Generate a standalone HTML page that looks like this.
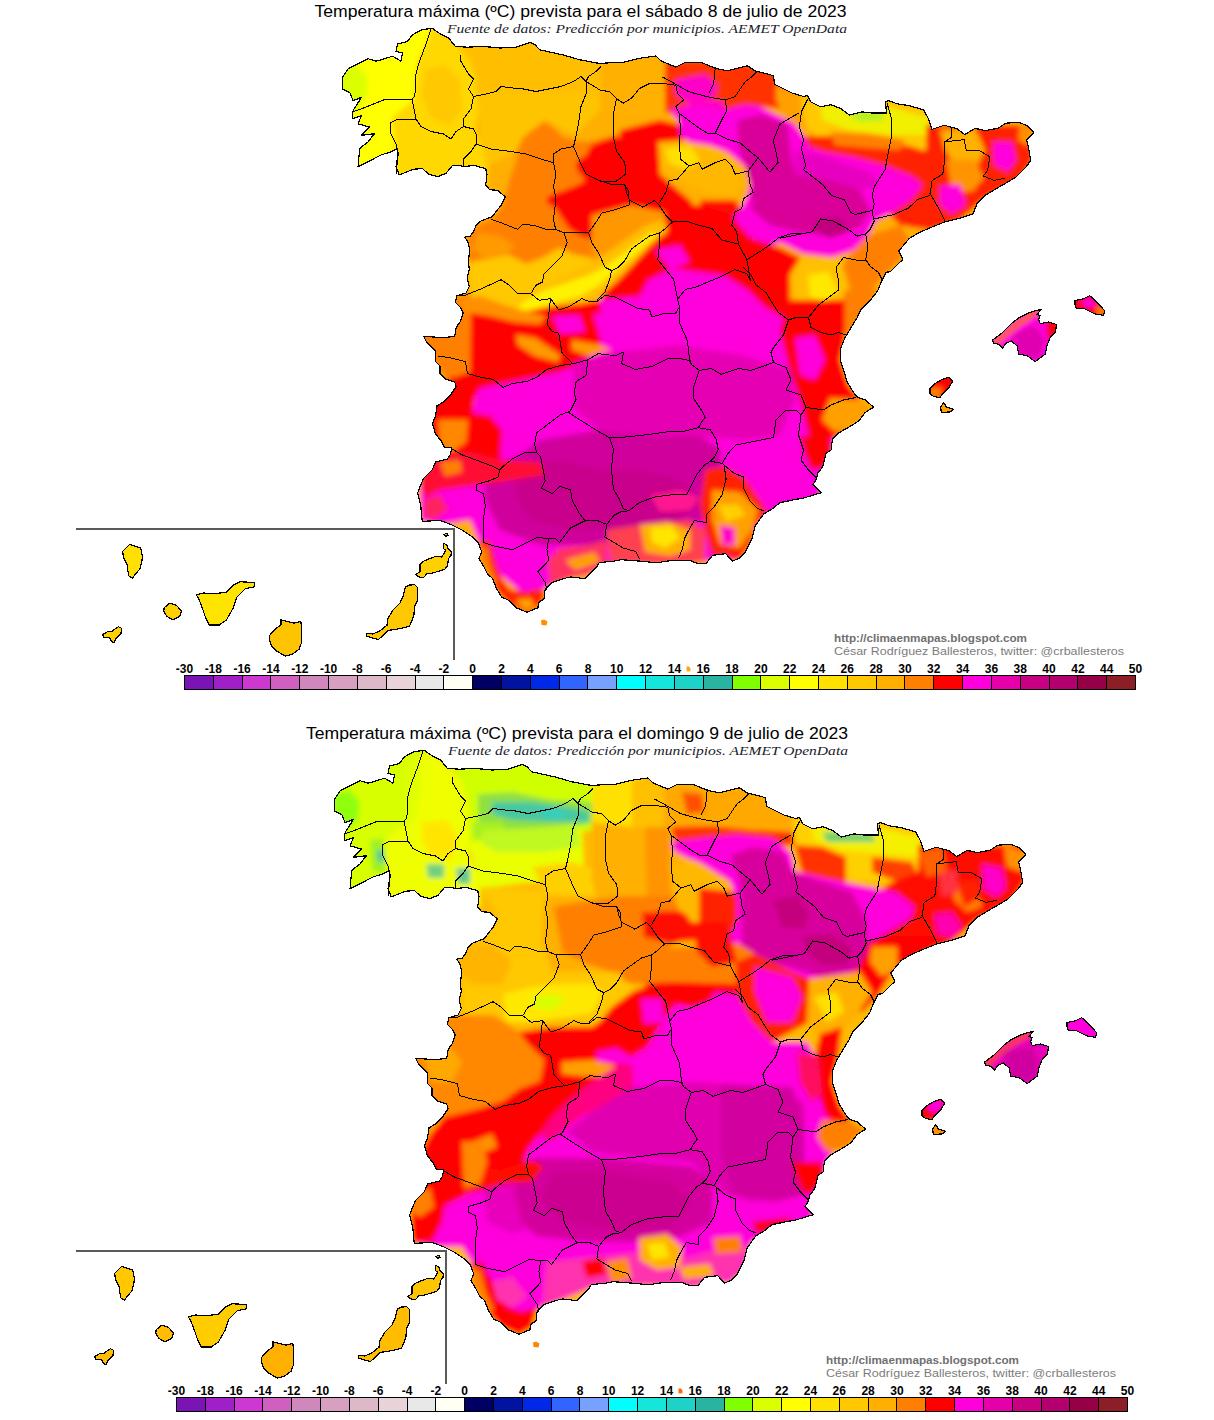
<!DOCTYPE html>
<html><head><meta charset="utf-8"><title>Temperatura máxima prevista</title>
<style>
html,body{margin:0;padding:0;background:#fff;}
body{width:1214px;height:1420px;overflow:hidden;}
svg{display:block;}
.t{font-family:"Liberation Sans",Arial,sans-serif;font-size:16.3px;fill:#000;}
.s{font-family:"Liberation Serif",serif;font-style:italic;font-size:12.5px;fill:#1a1a2a;}
.cb{font-family:"Liberation Sans",Arial,sans-serif;font-size:12px;font-weight:bold;fill:#000;}
.cr{font-family:"Liberation Sans",Arial,sans-serif;font-size:11px;font-weight:bold;fill:#707070;}
.cr2{font-family:"Liberation Sans",Arial,sans-serif;font-size:11.5px;fill:#7c7c7c;}
</style></head>
<body>
<svg width="1214" height="1420" viewBox="0 0 1214 1420">
<defs>
<filter id="bl" x="0" y="0" width="1" height="1" filterUnits="objectBoundingBox"><feGaussianBlur stdDeviation="2.5"/></filter>
<clipPath id="c1"><path d="M432.2,28.2 440.4,34.0 448.7,38.1 455.3,46.4 467.0,47.2 483.3,46.4 499.7,48.0 516.2,47.2 530.0,42.4 535.0,44.8 539.9,49.8 562.1,54.7 579.4,59.7 599.2,63.4 623.9,62.1 638.7,58.4 656.0,55.9 661.0,60.9 675.8,67.1 685.7,62.1 700.5,62.1 715.3,68.3 727.7,70.8 747.4,65.8 754.9,70.8 764.7,73.2 773.4,75.7 774.6,84.4 779.6,86.8 791.9,93.0 804.3,96.7 807.2,95.4 811.0,102.0 820.6,106.8 830.9,104.7 841.2,108.8 849.4,115.0 861.8,111.9 872.1,113.0 886.5,113.0 885.5,101.6 888.5,100.6 896.8,103.7 909.1,105.7 923.6,109.9 928.7,119.1 931.8,129.4 944.2,125.3 956.5,128.4 964.7,134.6 975.0,128.4 985.3,130.5 997.7,128.4 1005.9,123.2 1018.3,122.2 1026.5,125.3 1033.7,132.5 1026.5,139.7 1028.6,148.0 1030.6,160.3 1026.5,166.5 1016.2,176.8 1005.9,183.0 995.6,189.1 985.3,195.3 977.1,203.6 973.0,213.9 960.6,218.0 944.2,222.1 933.9,226.2 919.4,232.4 909.1,238.6 898.8,250.9 903.0,259.2 896.8,265.3 890.6,271.5 885.9,272.4 881.8,280.6 877.7,290.9 869.4,301.2 861.2,309.4 857.1,317.7 850.9,328.0 844.7,338.3 840.6,348.5 840.6,360.9 844.7,373.3 846.8,381.5 853.0,391.8 857.1,397.0 865.3,400.0 873.6,407.2 865.3,412.4 859.1,420.6 853.0,424.7 838.5,433.0 832.4,439.2 831.1,449.9 826.2,453.2 822.9,466.4 817.9,473.0 816.0,480.0 813.0,484.5 821.2,492.7 804.7,497.7 796.5,499.3 780.0,502.6 771.8,509.2 763.6,514.1 755.3,525.7 752.0,538.8 745.4,552.0 738.8,558.6 732.3,561.1 725.7,553.7 712.5,555.3 705.9,563.6 697.7,563.6 689.4,560.3 673.0,560.3 656.5,562.7 640.0,561.1 621.2,559.7 612.2,561.5 599.5,562.4 595.9,567.9 590.4,573.3 585.0,578.7 570.5,576.9 563.2,578.7 552.4,582.4 545.1,589.6 544.2,598.7 538.8,602.3 537.9,607.7 527.0,612.3 516.1,607.7 508.9,600.5 501.6,596.9 496.2,587.8 492.6,578.7 487.1,573.3 483.5,566.0 479.0,558.8 481.7,551.6 478.1,542.5 472.6,537.1 461.7,529.8 450.9,524.4 440.0,520.5 426.6,521.1 422.2,521.1 420.7,504.9 417.7,493.0 419.2,488.6 423.7,478.2 432.5,469.4 435.5,462.0 447.3,459.0 450.3,454.6 451.8,447.2 444.4,447.2 441.4,441.3 435.5,433.9 432.5,423.5 435.5,416.1 437.0,405.8 444.4,401.3 450.3,395.4 456.2,386.5 454.7,382.1 445.8,379.2 439.9,373.2 439.9,365.8 435.5,361.4 435.5,351.1 426.6,342.2 423.7,336.3 442.9,337.7 454.7,336.3 456.2,327.4 460.6,321.0 463.3,312.9 460.6,307.6 455.4,302.3 456.7,295.7 465.9,293.1 469.2,286.5 467.2,278.6 469.2,269.4 468.5,260.2 469.9,249.6 467.9,241.7 464.6,237.1 469.9,236.4 473.8,231.2 476.4,224.6 481.7,220.6 492.3,216.7 496.2,211.4 501.5,204.8 505.4,196.9 497.5,190.3 489.6,189.7 485.7,185.0 487.0,174.5 485.7,168.6 473.8,165.3 464.6,166.6 458.0,165.3 452.7,165.3 446.1,173.2 438.2,176.5 429.0,174.5 422.4,168.6 413.2,169.2 407.5,171.6 399.3,174.9 396.0,166.6 397.6,163.3 397.6,148.5 391.0,151.8 381.0,155.0 368.0,161.7 358.1,166.6 359.7,148.5 368.0,141.9 374.5,133.7 361.4,135.3 369.6,127.1 358.1,123.8 361.4,115.6 352.3,118.8 353.1,110.6 361.4,97.4 353.1,100.7 349.8,92.5 342.4,89.2 342.4,77.7 348.2,68.6 359.7,62.8 368.0,58.7 376.2,61.2 392.7,56.2 400.9,61.2 402.5,53.0 396.0,51.3 397.6,43.9 407.5,41.4 412.4,34.8 421.5,29.9Z M992.5,340.1 1002.4,332.7 1012.3,322.8 1018.8,317.9 1028.7,313.0 1033.7,311.3 1041.1,309.3 1037.0,314.6 1040.3,315.4 1038.6,319.5 1040.3,323.7 1048.5,322.0 1056.7,324.5 1055.1,332.7 1050.1,337.7 1046.9,345.9 1045.2,354.1 1035.3,361.5 1027.1,355.8 1018.8,354.1 1017.2,345.9 1011.4,341.0 1005.7,343.4 1002.4,348.4 999.1,344.3 994.1,343.4Z M1074.9,300.6 1083.1,298.9 1089.7,295.7 1096.3,301.4 1104.5,310.5 1103.7,315.4 1094.6,313.8 1084.7,308.8 1076.5,308.8 1074.9,304.7Z M929.9,388.7 934.8,383.8 941.4,379.7 948.8,377.2 952.9,381.3 948.0,388.7 941.4,395.3 939.8,397.8 933.2,396.1 929.9,393.7Z M940.6,406.9 943.9,402.7 946.4,406.9 953.0,409.3 951.3,411.8 941.4,412.6Z M541.0,620.5 544.0,619.5 547.5,621.5 546.5,625.5 541.5,625.0Z M122.7,551.4 129.6,544.5 140.8,548.0 142.6,557.5 140.0,568.7 132.2,578.2 128.7,575.7 127.0,564.4 123.5,557.5Z M102.8,634.5 107.1,631.9 112.3,631.0 118.4,626.7 121.8,628.4 120.9,633.6 115.8,638.8 114.0,643.1 110.6,640.5 109.7,637.1 103.6,637.1Z M164.2,607.7 169.4,603.3 176.3,605.1 181.5,611.1 179.8,616.3 172.8,619.8 166.8,616.3 163.8,611.1Z M196.2,594.7 204.0,593.0 214.4,593.8 226.5,592.1 233.4,585.2 240.3,581.7 254.1,582.6 254.1,586.9 245.5,588.6 236.8,597.3 233.4,607.7 226.5,619.8 219.5,625.0 209.2,625.0 205.7,618.0 202.2,607.7 198.8,599.0Z M269.7,635.3 274.9,629.3 281.0,624.9 281.0,619.8 287.0,621.5 293.9,623.2 300.8,621.5 301.7,628.4 301.7,642.2 299.1,649.2 292.2,654.4 285.3,656.1 276.6,650.9 271.4,645.7 269.7,640.5Z M366.2,633.1 372.3,634.0 379.2,631.4 387.0,625.3 387.9,618.4 393.1,609.8 400.0,602.9 403.4,595.9 405.2,587.3 409.5,585.1 414.7,584.7 417.3,587.3 417.3,601.1 414.7,606.3 413.8,615.8 412.1,620.2 409.5,626.2 403.4,627.9 396.5,629.2 387.9,630.5 382.7,635.7 378.4,639.6 372.3,637.9 366.2,636.2Z M415.6,574.7 419.9,571.7 419.9,564.8 423.3,561.3 429.4,558.7 436.3,556.1 441.5,557.0 444.1,553.5 445.8,550.1 443.2,548.4 443.2,543.2 446.7,544.9 448.4,549.2 451.5,551.8 451.0,555.3 448.4,558.7 447.6,565.7 445.0,569.1 439.8,570.8 432.9,573.0 426.8,573.9 423.3,577.8 419.0,576.9Z M444.1,534.5 446.7,533.2 448.4,535.4 445.8,536.2Z M686.5,666.5 689.0,666.5 690.5,668.5 690.5,671.5 686.5,671.5Z"/></clipPath>
<clipPath id="c2"><path d="M432.2,28.2 440.4,34.0 448.7,38.1 455.3,46.4 467.0,47.2 483.3,46.4 499.7,48.0 516.2,47.2 530.0,42.4 535.0,44.8 539.9,49.8 562.1,54.7 579.4,59.7 599.2,63.4 623.9,62.1 638.7,58.4 656.0,55.9 661.0,60.9 675.8,67.1 685.7,62.1 700.5,62.1 715.3,68.3 727.7,70.8 747.4,65.8 754.9,70.8 764.7,73.2 773.4,75.7 774.6,84.4 779.6,86.8 791.9,93.0 804.3,96.7 807.2,95.4 811.0,102.0 820.6,106.8 830.9,104.7 841.2,108.8 849.4,115.0 861.8,111.9 872.1,113.0 886.5,113.0 885.5,101.6 888.5,100.6 896.8,103.7 909.1,105.7 923.6,109.9 928.7,119.1 931.8,129.4 944.2,125.3 956.5,128.4 964.7,134.6 975.0,128.4 985.3,130.5 997.7,128.4 1005.9,123.2 1018.3,122.2 1026.5,125.3 1033.7,132.5 1026.5,139.7 1028.6,148.0 1030.6,160.3 1026.5,166.5 1016.2,176.8 1005.9,183.0 995.6,189.1 985.3,195.3 977.1,203.6 973.0,213.9 960.6,218.0 944.2,222.1 933.9,226.2 919.4,232.4 909.1,238.6 898.8,250.9 903.0,259.2 896.8,265.3 890.6,271.5 885.9,272.4 881.8,280.6 877.7,290.9 869.4,301.2 861.2,309.4 857.1,317.7 850.9,328.0 844.7,338.3 840.6,348.5 840.6,360.9 844.7,373.3 846.8,381.5 853.0,391.8 857.1,397.0 865.3,400.0 873.6,407.2 865.3,412.4 859.1,420.6 853.0,424.7 838.5,433.0 832.4,439.2 831.1,449.9 826.2,453.2 822.9,466.4 817.9,473.0 816.0,480.0 813.0,484.5 821.2,492.7 804.7,497.7 796.5,499.3 780.0,502.6 771.8,509.2 763.6,514.1 755.3,525.7 752.0,538.8 745.4,552.0 738.8,558.6 732.3,561.1 725.7,553.7 712.5,555.3 705.9,563.6 697.7,563.6 689.4,560.3 673.0,560.3 656.5,562.7 640.0,561.1 621.2,559.7 612.2,561.5 599.5,562.4 595.9,567.9 590.4,573.3 585.0,578.7 570.5,576.9 563.2,578.7 552.4,582.4 545.1,589.6 544.2,598.7 538.8,602.3 537.9,607.7 527.0,612.3 516.1,607.7 508.9,600.5 501.6,596.9 496.2,587.8 492.6,578.7 487.1,573.3 483.5,566.0 479.0,558.8 481.7,551.6 478.1,542.5 472.6,537.1 461.7,529.8 450.9,524.4 440.0,520.5 426.6,521.1 422.2,521.1 420.7,504.9 417.7,493.0 419.2,488.6 423.7,478.2 432.5,469.4 435.5,462.0 447.3,459.0 450.3,454.6 451.8,447.2 444.4,447.2 441.4,441.3 435.5,433.9 432.5,423.5 435.5,416.1 437.0,405.8 444.4,401.3 450.3,395.4 456.2,386.5 454.7,382.1 445.8,379.2 439.9,373.2 439.9,365.8 435.5,361.4 435.5,351.1 426.6,342.2 423.7,336.3 442.9,337.7 454.7,336.3 456.2,327.4 460.6,321.0 463.3,312.9 460.6,307.6 455.4,302.3 456.7,295.7 465.9,293.1 469.2,286.5 467.2,278.6 469.2,269.4 468.5,260.2 469.9,249.6 467.9,241.7 464.6,237.1 469.9,236.4 473.8,231.2 476.4,224.6 481.7,220.6 492.3,216.7 496.2,211.4 501.5,204.8 505.4,196.9 497.5,190.3 489.6,189.7 485.7,185.0 487.0,174.5 485.7,168.6 473.8,165.3 464.6,166.6 458.0,165.3 452.7,165.3 446.1,173.2 438.2,176.5 429.0,174.5 422.4,168.6 413.2,169.2 407.5,171.6 399.3,174.9 396.0,166.6 397.6,163.3 397.6,148.5 391.0,151.8 381.0,155.0 368.0,161.7 358.1,166.6 359.7,148.5 368.0,141.9 374.5,133.7 361.4,135.3 369.6,127.1 358.1,123.8 361.4,115.6 352.3,118.8 353.1,110.6 361.4,97.4 353.1,100.7 349.8,92.5 342.4,89.2 342.4,77.7 348.2,68.6 359.7,62.8 368.0,58.7 376.2,61.2 392.7,56.2 400.9,61.2 402.5,53.0 396.0,51.3 397.6,43.9 407.5,41.4 412.4,34.8 421.5,29.9Z M992.5,340.1 1002.4,332.7 1012.3,322.8 1018.8,317.9 1028.7,313.0 1033.7,311.3 1041.1,309.3 1037.0,314.6 1040.3,315.4 1038.6,319.5 1040.3,323.7 1048.5,322.0 1056.7,324.5 1055.1,332.7 1050.1,337.7 1046.9,345.9 1045.2,354.1 1035.3,361.5 1027.1,355.8 1018.8,354.1 1017.2,345.9 1011.4,341.0 1005.7,343.4 1002.4,348.4 999.1,344.3 994.1,343.4Z M1074.9,300.6 1083.1,298.9 1089.7,295.7 1096.3,301.4 1104.5,310.5 1103.7,315.4 1094.6,313.8 1084.7,308.8 1076.5,308.8 1074.9,304.7Z M929.9,388.7 934.8,383.8 941.4,379.7 948.8,377.2 952.9,381.3 948.0,388.7 941.4,395.3 939.8,397.8 933.2,396.1 929.9,393.7Z M940.6,406.9 943.9,402.7 946.4,406.9 953.0,409.3 951.3,411.8 941.4,412.6Z M541.0,620.5 544.0,619.5 547.5,621.5 546.5,625.5 541.5,625.0Z M122.7,551.4 129.6,544.5 140.8,548.0 142.6,557.5 140.0,568.7 132.2,578.2 128.7,575.7 127.0,564.4 123.5,557.5Z M102.8,634.5 107.1,631.9 112.3,631.0 118.4,626.7 121.8,628.4 120.9,633.6 115.8,638.8 114.0,643.1 110.6,640.5 109.7,637.1 103.6,637.1Z M164.2,607.7 169.4,603.3 176.3,605.1 181.5,611.1 179.8,616.3 172.8,619.8 166.8,616.3 163.8,611.1Z M196.2,594.7 204.0,593.0 214.4,593.8 226.5,592.1 233.4,585.2 240.3,581.7 254.1,582.6 254.1,586.9 245.5,588.6 236.8,597.3 233.4,607.7 226.5,619.8 219.5,625.0 209.2,625.0 205.7,618.0 202.2,607.7 198.8,599.0Z M269.7,635.3 274.9,629.3 281.0,624.9 281.0,619.8 287.0,621.5 293.9,623.2 300.8,621.5 301.7,628.4 301.7,642.2 299.1,649.2 292.2,654.4 285.3,656.1 276.6,650.9 271.4,645.7 269.7,640.5Z M366.2,633.1 372.3,634.0 379.2,631.4 387.0,625.3 387.9,618.4 393.1,609.8 400.0,602.9 403.4,595.9 405.2,587.3 409.5,585.1 414.7,584.7 417.3,587.3 417.3,601.1 414.7,606.3 413.8,615.8 412.1,620.2 409.5,626.2 403.4,627.9 396.5,629.2 387.9,630.5 382.7,635.7 378.4,639.6 372.3,637.9 366.2,636.2Z M415.6,574.7 419.9,571.7 419.9,564.8 423.3,561.3 429.4,558.7 436.3,556.1 441.5,557.0 444.1,553.5 445.8,550.1 443.2,548.4 443.2,543.2 446.7,544.9 448.4,549.2 451.5,551.8 451.0,555.3 448.4,558.7 447.6,565.7 445.0,569.1 439.8,570.8 432.9,573.0 426.8,573.9 423.3,577.8 419.0,576.9Z M444.1,534.5 446.7,533.2 448.4,535.4 445.8,536.2Z M686.5,666.5 689.0,666.5 690.5,668.5 690.5,671.5 686.5,671.5Z"/></clipPath>
</defs>
<rect width="1214" height="1420" fill="#fff"/>
<text class="t" x="580.5" y="17" text-anchor="middle" textLength="532" lengthAdjust="spacingAndGlyphs">Temperatura máxima (ºC) prevista para el sábado 8 de julio de 2023</text>
<text class="s" x="847" y="32.5" text-anchor="end" textLength="400" lengthAdjust="spacingAndGlyphs">Fuente de datos: Predicción por municipios. AEMET OpenData</text>
<g transform="translate(0,0)">
<g clip-path="url(#c1)"><g filter="url(#bl)">
<rect x="60" y="20" width="1100" height="650" fill="#ffaf00"/>
<path fill="#ffff00" d="M330.0,20.0 433.0,20.0 428.0,40.0 418.0,60.0 414.0,100.0 392.0,118.0 396.0,160.0 398.0,185.0 330.0,185.0Z"/>
<path fill="#dcff00" d="M340.0,70.0 358.0,66.0 368.0,78.0 366.0,96.0 358.0,110.0 348.0,115.0 340.0,100.0Z"/>
<path fill="#e8ff00" d="M352.0,125.0 362.0,128.0 366.0,145.0 358.0,150.0 350.0,140.0Z"/>
<path fill="#ffd800" d="M433.0,20.0 448.0,36.0 458.0,46.0 470.0,60.0 476.0,80.0 478.0,110.0 476.0,130.0 484.0,150.0 488.0,165.0 488.0,185.0 398.0,185.0 396.0,160.0 392.0,118.0 414.0,100.0 418.0,60.0 428.0,40.0Z"/>
<path fill="#ffc800" d="M425.0,70.0 445.0,65.0 460.0,80.0 462.0,110.0 450.0,125.0 430.0,118.0 422.0,95.0Z"/>
<path fill="#ffbf00" d="M455.0,40.0 540.0,40.0 600.0,60.0 625.0,60.0 625.0,100.0 560.0,98.0 520.0,95.0 480.0,95.0 470.0,60.0Z"/>
<path fill="#ffc400" d="M476.0,90.0 560.0,95.0 600.0,95.0 600.0,110.0 575.0,135.0 545.0,120.0 525.0,135.0 515.0,150.0 500.0,160.0 486.0,165.0 480.0,130.0Z"/>
<path fill="#ff8000" d="M522.6,137.9 530.8,131.3 544.0,121.4 552.3,126.4 562.1,136.2 575.3,141.2 591.8,141.2 611.6,136.2 640.0,125.0 660.0,125.0 660.0,265.0 624.7,264.7 608.3,261.4 591.8,258.2 575.3,254.9 558.8,248.3 542.4,258.2 525.9,264.7 509.4,254.9 493.0,258.2 468.2,264.7 468.0,235.0 476.5,225.2 493.0,218.6 501.2,207.1 506.1,192.3 511.0,174.1 516.0,162.6 517.7,149.4Z"/>
<path fill="#ff9a00" d="M478.0,232.0 500.0,236.0 515.0,246.0 505.0,256.0 485.0,258.0 472.0,250.0Z"/>
<path fill="#ffc800" d="M468.0,262.0 493.0,258.0 509.0,255.0 526.0,264.0 542.0,258.0 559.0,248.0 575.0,255.0 592.0,258.0 608.0,261.0 625.0,265.0 650.0,262.0 660.0,265.0 660.0,292.0 640.0,295.0 600.0,300.0 560.0,306.0 530.0,310.0 510.0,318.0 495.0,305.0 470.0,300.0Z"/>
<path fill="#ff0000" d="M578.6,159.3 585.2,156.0 591.8,144.5 605.0,139.5 614.9,136.2 624.7,139.5 641.2,137.9 649.5,144.5 660.0,149.4 660.0,202.1 646.2,205.4 634.6,202.1 624.7,205.4 618.2,218.6 618.2,231.8 613.2,243.3 605.0,245.0 596.7,241.7 588.5,238.4 578.6,235.1 568.7,228.5 562.1,218.6 555.6,208.7 545.7,202.1 549.0,195.6 558.8,192.3 567.1,189.0 575.3,185.7 585.2,180.7 578.6,172.5 575.3,165.9Z"/>
<path fill="#ffb000" d="M600.0,55.0 669.0,55.0 669.0,110.0 640.0,115.0 600.0,110.0Z"/>
<path fill="#ff3000" d="M665.0,60.0 730.0,60.0 776.0,72.0 790.0,90.0 790.0,110.0 760.0,106.0 727.0,110.0 700.0,112.0 680.0,118.0 665.0,112.0Z"/>
<path fill="#ff00c8" d="M675.0,80.0 705.0,74.0 718.0,86.0 712.0,100.0 690.0,104.0 676.0,95.0Z"/>
<path fill="#ff00c8" d="M690.0,104.0 720.0,100.0 728.0,112.0 705.0,118.0Z"/>
<path fill="#ffa000" d="M776.0,85.0 808.0,95.0 812.0,120.0 800.0,128.0 785.0,118.0 776.0,100.0Z"/>
<path fill="#ff0000" d="M620.0,130.0 660.0,120.0 680.0,125.0 686.0,142.0 660.0,145.0 650.0,165.0 672.0,185.0 690.0,200.0 700.0,215.0 690.0,230.0 669.0,225.0 640.0,210.0 620.0,208.0Z"/>
<path fill="#ff1000" d="M700.0,200.0 735.0,200.0 752.0,225.0 752.0,245.0 725.0,240.0 705.0,230.0Z"/>
<path fill="#ffb800" d="M658.0,142.0 689.0,140.0 720.0,146.0 735.0,160.0 745.0,180.0 735.0,195.0 705.0,192.0 680.0,180.0 660.0,170.0Z"/>
<path fill="#ffe000" d="M665.0,148.0 690.0,146.0 700.0,160.0 685.0,170.0 668.0,162.0Z"/>
<path fill="#ffc800" d="M800.0,96.0 886.0,100.0 930.0,110.0 945.0,125.0 950.0,150.0 900.0,150.0 860.0,150.0 820.0,140.0 805.0,125.0Z"/>
<path fill="#f0f000" d="M820.0,105.0 886.0,106.0 928.0,118.0 930.0,135.0 890.0,135.0 850.0,130.0 822.0,120.0Z"/>
<path fill="#b0f020" d="M845.0,112.0 880.0,112.0 886.0,120.0 860.0,122.0Z"/>
<path fill="#ff2800" d="M800.0,136.0 830.0,136.0 870.0,140.0 910.0,146.0 940.0,156.0 945.0,178.0 925.0,182.0 900.0,174.0 870.0,168.0 830.0,160.0 805.0,154.0Z"/>
<path fill="#ff8000" d="M830.0,132.0 870.0,134.0 905.0,140.0 900.0,150.0 870.0,148.0 835.0,145.0Z"/>
<path fill="#ff2000" d="M926.0,125.0 1030.0,125.0 1033.0,160.0 1020.0,180.0 985.0,198.0 960.0,220.0 930.0,230.0 900.0,225.0 880.0,205.0 870.0,180.0 900.0,160.0 926.0,150.0Z"/>
<path fill="#ffb000" d="M940.0,130.0 975.0,128.0 985.0,150.0 975.0,170.0 955.0,165.0 945.0,150.0Z"/>
<path fill="#ff9400" d="M946.0,160.0 975.0,160.0 984.0,178.0 972.0,192.0 952.0,190.0Z"/>
<path fill="#ffb000" d="M950.0,140.0 968.0,140.0 970.0,155.0 952.0,156.0Z"/>
<path fill="#ff00dc" d="M993.0,142.0 1012.0,142.0 1016.0,160.0 1008.0,172.0 994.0,165.0Z"/>
<path fill="#ff00dc" d="M940.0,186.0 960.0,184.0 966.0,205.0 952.0,214.0 940.0,205.0Z"/>
<path fill="#ff9000" d="M1020.0,124.0 1034.0,130.0 1028.0,146.0 1018.0,140.0Z"/>
<path fill="#ff00dc" d="M669.4,109.4 685.9,106.1 702.4,102.8 712.3,107.8 727.1,109.4 743.6,104.5 760.0,106.1 776.5,114.4 793.0,122.6 801.2,132.0 809.5,147.0 824.7,152.0 853.7,157.0 882.7,165.0 911.7,176.0 922.6,185.0 911.7,199.5 890.0,214.0 875.5,221.2 868.2,235.7 853.7,250.2 832.0,257.5 803.0,253.8 781.2,243.0 765.0,246.2 751.8,237.9 735.3,229.7 732.0,218.2 738.6,211.6 745.2,200.0 750.1,185.2 745.2,167.1 735.3,158.8 727.1,152.3 710.6,145.7 689.2,142.4 679.3,134.1 679.3,122.6Z"/>
<path fill="#d80098" d="M738.0,120.0 760.0,115.0 788.0,125.0 790.0,150.0 795.0,175.0 830.0,180.0 860.0,190.0 870.0,210.0 860.0,228.0 830.0,236.0 800.0,232.0 770.0,225.0 752.0,210.0 752.0,185.0 745.0,165.0 738.0,145.0Z"/>
<path fill="#e800c0" d="M795.0,150.0 830.0,158.0 870.0,172.0 880.0,185.0 860.0,190.0 830.0,180.0 795.0,175.0Z"/>
<path fill="#c0007e" d="M815.0,220.0 840.0,218.0 848.0,232.0 830.0,238.0 816.0,232.0Z"/>
<path fill="#ff8000" d="M868.0,236.0 900.0,225.0 910.0,240.0 900.0,260.0 885.0,275.0 870.0,290.0 850.0,290.0 840.0,270.0 850.0,255.0Z"/>
<path fill="#ffc000" d="M800.0,258.0 840.0,258.0 850.0,290.0 840.0,320.0 810.0,322.0 795.0,300.0 790.0,275.0Z"/>
<path fill="#ffe800" d="M808.0,275.0 828.0,272.0 838.0,290.0 825.0,302.0 810.0,296.0Z"/>
<path fill="#ff8000" d="M845.0,290.0 878.0,288.0 870.0,305.0 855.0,330.0 843.0,335.0 838.0,318.0Z"/>
<path fill="#ff0000" d="M620.0,210.0 660.0,205.0 700.0,205.0 730.0,214.0 750.0,238.0 780.0,248.0 800.0,258.0 790.0,275.0 790.0,300.0 780.0,330.0 700.0,320.0 640.0,320.0 620.0,300.0 615.0,270.0Z"/>
<path fill="#ff9800" d="M592.0,215.0 630.0,205.0 664.0,212.0 668.0,232.0 650.0,245.0 635.0,260.0 618.0,275.0 600.0,288.0 592.0,270.0Z"/>
<path fill="#ff0000" d="M612.0,270.0 640.0,255.0 660.0,240.0 680.0,235.0 700.0,240.0 700.0,270.0 673.0,268.0 648.0,280.0 640.0,296.0 620.0,300.0 600.0,300.0Z"/>
<path fill="#ffc000" d="M505.0,318.0 520.0,300.0 540.0,285.0 565.0,275.0 590.0,264.0 605.0,254.0 625.0,240.0 645.0,226.0 662.0,220.0 666.0,230.0 650.0,246.0 635.0,262.0 618.0,280.0 600.0,296.0 575.0,305.0 545.0,310.0 520.0,318.0Z"/>
<path fill="#fff200" d="M511.0,312.0 526.0,300.0 545.0,290.0 570.0,282.0 592.0,274.0 606.0,266.0 620.0,256.0 636.0,244.0 652.0,232.0 656.0,236.0 640.0,250.0 626.0,262.0 612.0,274.0 598.0,286.0 580.0,296.0 555.0,303.0 530.0,310.0Z"/>
<path fill="#ff00dc" d="M597.0,300.0 640.0,296.0 648.0,280.0 673.0,268.0 700.0,272.0 724.0,275.0 747.6,289.7 765.4,307.5 786.0,319.4 786.0,346.0 777.0,373.0 700.0,370.0 640.0,370.0 600.0,365.0 597.0,340.0Z"/>
<path fill="#ff00dc" d="M655.0,250.0 680.0,245.0 690.0,262.0 670.0,270.0Z"/>
<path fill="#ff8000" d="M420.0,330.0 456.0,296.0 471.0,294.0 474.0,309.0 471.0,326.0 474.0,339.0 486.0,355.0 506.0,368.0 509.0,380.0 494.0,382.0 453.0,382.0 445.0,378.0 436.0,365.0 420.0,352.0Z"/>
<path fill="#ff0000" d="M471.0,306.0 490.0,310.0 510.0,318.0 530.0,311.0 555.0,306.0 580.0,304.0 600.0,300.0 602.0,330.0 598.0,360.0 560.0,375.0 510.0,382.0 494.0,385.0 480.0,390.0 474.0,398.0 472.0,420.0 474.0,440.0 478.0,460.0 430.0,470.0 430.0,395.0 445.0,380.0 470.0,372.0Z"/>
<path fill="#ff9a00" d="M516.0,335.0 535.0,338.0 560.0,355.0 558.0,362.0 535.0,356.0 518.0,345.0Z"/>
<path fill="#ff9a00" d="M572.0,340.0 600.0,345.0 620.0,354.0 615.0,360.0 590.0,356.0 572.0,350.0Z"/>
<path fill="#ff9000" d="M458.0,300.0 480.0,296.0 505.0,305.0 530.0,312.0 546.0,316.0 540.0,324.0 515.0,322.0 490.0,316.0 465.0,312.0Z"/>
<path fill="#ff00dc" d="M552.0,316.0 580.0,315.0 585.0,332.0 560.0,334.0Z"/>
<path fill="#ff00dc" d="M593.0,314.0 625.0,312.0 640.0,320.0 630.0,340.0 600.0,338.0Z"/>
<path fill="#ff00dc" d="M474.4,398.2 479.3,388.3 494.1,385.0 510.6,381.7 527.1,378.4 543.6,375.1 560.0,371.8 576.5,365.2 584.7,358.6 601.2,352.0 620.0,348.7 640.0,330.0 680.0,330.0 720.0,320.0 770.0,322.0 790.0,330.0 800.0,345.0 810.0,380.0 830.0,400.0 835.0,440.0 830.0,470.0 818.0,500.0 760.0,520.0 740.0,560.0 600.0,565.0 550.0,585.0 530.0,600.0 500.0,575.0 480.0,545.0 470.0,520.0 440.0,525.0 420.0,520.0 420.0,480.0 440.0,470.0 472.0,460.0 472.7,413.0Z"/>
<path fill="#ff0000" d="M790.0,300.0 845.0,300.0 845.0,340.0 840.0,360.0 848.0,385.0 860.0,400.0 870.0,410.0 830.0,440.0 810.0,440.0 800.0,400.0 790.0,370.0 780.0,330.0Z"/>
<path fill="#ff00dc" d="M795.0,338.0 815.0,335.0 825.0,360.0 815.0,380.0 800.0,375.0Z"/>
<path fill="#ffa000" d="M830.0,398.0 860.0,400.0 872.0,408.0 855.0,425.0 835.0,432.0 822.0,420.0Z"/>
<path fill="#ff0000" d="M800.0,435.0 830.0,440.0 832.0,455.0 822.0,468.0 812.0,470.0 805.0,455.0Z"/>
<path fill="#e600b4" d="M573.0,362.0 620.0,352.0 680.0,345.0 740.0,355.0 791.0,370.0 795.0,400.0 780.0,436.0 740.0,440.0 700.0,436.0 650.0,436.0 600.0,430.0 575.0,410.0Z"/>
<path fill="#d0009c" d="M485.0,470.0 520.0,455.0 540.0,440.0 600.0,430.0 650.0,436.0 700.0,436.0 721.0,450.0 720.0,500.0 700.0,520.0 650.0,540.0 600.0,545.0 540.0,545.0 500.0,530.0 485.0,500.0Z"/>
<path fill="#c8008c" d="M520.0,470.0 560.0,460.0 600.0,470.0 640.0,470.0 680.0,480.0 700.0,505.0 670.0,525.0 620.0,530.0 570.0,530.0 530.0,520.0 515.0,495.0Z"/>
<path fill="#ff0000" d="M465.0,412.0 490.0,416.0 502.0,430.0 500.0,462.0 480.0,466.0 465.0,455.0Z"/>
<path fill="#ff8800" d="M438.0,420.0 468.0,420.0 466.0,442.0 452.0,452.0 440.0,446.0Z"/>
<path fill="#ff1030" d="M430.0,455.0 470.0,452.0 500.0,460.0 540.0,462.0 545.0,475.0 500.0,482.0 470.0,486.0 440.0,490.0 425.0,498.0 420.0,480.0Z"/>
<path fill="#ff8000" d="M440.0,462.0 460.0,460.0 462.0,472.0 445.0,476.0Z"/>
<path fill="#ff2060" d="M424.0,500.0 440.0,495.0 448.0,510.0 432.0,520.0 424.0,515.0Z"/>
<path fill="#ff2000" d="M478.0,542.0 490.0,540.0 495.0,560.0 502.0,580.0 510.0,590.0 525.0,592.0 540.0,588.0 545.0,595.0 540.0,605.0 527.0,613.0 510.0,605.0 498.0,592.0 490.0,578.0 483.0,565.0Z"/>
<path fill="#ff8000" d="M480.0,546.0 487.0,548.0 490.0,565.0 497.0,582.0 492.0,586.0 484.0,570.0 480.0,560.0Z"/>
<path fill="#ffa000" d="M515.0,600.0 530.0,598.0 535.0,606.0 525.0,610.0Z"/>
<path fill="#ff2000" d="M705.0,470.0 724.0,466.0 745.0,478.0 760.0,500.0 768.0,512.0 755.0,526.0 752.0,540.0 745.0,552.0 738.0,560.0 725.0,556.0 712.0,556.0 705.0,530.0 700.0,505.0Z"/>
<path fill="#ffa000" d="M712.0,490.0 740.0,492.0 758.0,510.0 752.0,530.0 740.0,548.0 720.0,545.0 712.0,520.0Z"/>
<path fill="#ffd000" d="M718.0,505.0 738.0,505.0 746.0,515.0 726.0,522.0Z"/>
<path fill="#ff00c8" d="M720.0,525.0 735.0,528.0 735.0,545.0 722.0,545.0Z"/>
<path fill="#ff4050" d="M607.0,530.0 640.0,525.0 690.0,520.0 705.0,530.0 705.0,560.0 690.0,564.0 650.0,564.0 610.0,562.0Z"/>
<path fill="#ffb000" d="M640.0,525.0 668.0,522.0 690.0,530.0 690.0,550.0 670.0,556.0 645.0,552.0Z"/>
<path fill="#ffe600" d="M650.0,528.0 672.0,526.0 680.0,538.0 665.0,548.0 652.0,542.0Z"/>
<path fill="#ff3060" d="M548.0,560.0 560.0,548.0 590.0,545.0 607.0,540.0 607.0,565.0 585.0,575.0 570.0,578.0 550.0,586.0Z"/>
<path fill="#ffa000" d="M565.0,560.0 595.0,552.0 600.0,562.0 575.0,570.0Z"/>
<path fill="#ff1890" d="M650.0,495.0 680.0,490.0 700.0,498.0 690.0,510.0 660.0,512.0Z"/>
<path fill="#ff00dc" d="M985.0,300.0 1060.0,300.0 1060.0,365.0 985.0,365.0Z"/>
<path fill="#e000b0" d="M1012.0,335.0 1035.0,325.0 1045.0,340.0 1040.0,358.0 1020.0,356.0Z"/>
<path fill="#ff6000" d="M990.0,342.0 1005.0,330.0 1020.0,318.0 1035.0,308.0 1040.0,313.0 1020.0,326.0 1005.0,338.0 996.0,346.0Z"/>
<path fill="#ff0000" d="M1045.0,320.0 1060.0,320.0 1060.0,340.0 1048.0,340.0Z"/>
<path fill="#ff0000" d="M1070.0,290.0 1110.0,290.0 1110.0,320.0 1070.0,320.0Z"/>
<path fill="#ff00dc" d="M1080.0,300.0 1092.0,298.0 1096.0,306.0 1086.0,308.0Z"/>
<path fill="#ff8000" d="M1098.0,305.0 1106.0,310.0 1104.0,318.0 1096.0,314.0Z"/>
<path fill="#ff0000" d="M925.0,372.0 958.0,372.0 958.0,400.0 925.0,400.0Z"/>
<path fill="#ff8000" d="M928.0,388.0 942.0,388.0 940.0,398.0 928.0,396.0Z"/>
<path fill="#ffa000" d="M935.0,400.0 958.0,400.0 958.0,415.0 935.0,415.0Z"/>
<path fill="#ff8c00" d="M538.0,618.0 550.0,618.0 550.0,628.0 538.0,628.0Z"/>
<path fill="#ffa000" d="M684.0,664.0 693.0,664.0 693.0,674.0 684.0,674.0Z"/>
<path fill="#ffd000" d="M95.0,535.0 460.0,535.0 460.0,665.0 95.0,665.0Z"/>
<path fill="#ffe000" d="M120.0,542.0 145.0,542.0 145.0,580.0 120.0,580.0Z"/>
<path fill="#ffe400" d="M195.0,580.0 256.0,580.0 256.0,627.0 195.0,627.0Z"/>
<path fill="#ffc800" d="M360.0,580.0 420.0,580.0 420.0,642.0 360.0,642.0Z"/>
<path fill="#ffc400" d="M268.0,618.0 304.0,618.0 304.0,658.0 268.0,658.0Z"/>
</g></g>
<g fill="none" stroke="#000" stroke-width="1" stroke-linejoin="round" shape-rendering="crispEdges"><polyline points="431.0,29.0 426.0,44.0 418.5,64.0 416.0,74.0 414.8,96.5 412.0,99.0 416.0,119.0"/>
<polyline points="412.0,99.0 398.5,99.0 386.0,99.0 373.5,104.0 361.0,109.0 353.5,111.5"/>
<polyline points="416.0,119.0 398.5,119.0 390.0,122.8 391.0,134.0 396.0,144.0 398.5,154.0 396.0,164.0 396.0,174.0"/>
<polyline points="416.0,119.0 421.0,126.5 431.0,131.5 443.5,134.0 451.0,139.0 456.0,131.5 463.5,126.5 473.5,129.0 476.0,134.0"/>
<polyline points="460.0,55.0 461.0,61.5 468.5,74.0 473.5,79.0 468.5,89.0 473.5,96.5 471.0,109.0 463.5,119.0 463.5,126.5"/>
<polyline points="476.0,134.0 476.0,144.0 471.0,151.5 463.5,159.0 463.5,166.5"/>
<polyline points="473.5,96.5 486.0,94.0 496.0,91.5 501.0,86.5 511.0,87.8 523.5,89.0 536.0,91.5 548.5,89.0 561.0,86.5 573.5,81.5 581.0,76.5 586.0,81.5"/>
<polyline points="601.0,66.5 596.0,71.5 588.5,76.5 586.0,81.5"/>
<polyline points="476.0,144.0 491.0,149.0 511.0,151.5 526.0,154.0 541.0,159.0 553.5,162.8"/>
<polyline points="586.0,81.5 586.0,94.0 581.0,106.5 578.5,124.0 576.0,136.5 573.5,146.5"/>
<polyline points="573.5,146.5 561.0,149.0 553.5,154.0 553.5,162.8"/>
<polyline points="553.5,162.8 556.0,174.0 553.5,186.5 556.0,199.0 553.5,219.0 555.6,229.4"/>
<polyline points="491.3,219.5 501.2,222.8 509.4,226.1 517.7,229.4 522.6,224.5 534.1,225.3 545.7,229.4 555.6,229.4 563.8,232.7"/>
<polyline points="586.0,81.5 600.0,90.0 609.9,91.8 616.5,98.4 623.1,103.3 631.3,98.4 639.5,88.5 649.4,83.5 662.6,83.5 675.8,85.2 677.4,93.4 684.0,100.0 677.4,105.0 675.8,106.6 679.1,113.2"/>
<polyline points="616.5,98.4 613.2,114.8 613.2,136.3 616.5,151.1 624.7,162.6 626.0,174.0"/>
<polyline points="573.5,146.5 581.0,164.0 586.0,174.0 601.0,181.5 616.0,181.5 626.0,174.0"/>
<polyline points="600.0,180.7 609.9,184.0 624.7,184.0 626.4,192.3 629.7,200.5 642.8,207.1 654.4,200.5 659.3,205.4"/>
<polyline points="563.8,232.7 575.3,232.7 588.5,232.7"/>
<polyline points="588.5,232.7 596.7,221.2 601.7,213.0 614.9,209.7 629.7,204.7 628.0,189.9 624.7,184.9"/>
<polyline points="563.8,232.7 567.1,242.6 562.1,255.8 552.3,265.7 544.0,273.9 542.4,282.1 535.8,285.4 530.8,293.7"/>
<polyline points="456.0,295.0 465.0,295.3 481.4,288.7 501.2,279.7 509.4,285.4 517.7,293.7 525.9,293.7 530.8,293.7"/>
<polyline points="530.8,293.7 539.1,300.3 550.6,298.6 558.8,310.1 568.7,306.9 581.9,298.6 590.1,301.9 596.7,301.9"/>
<polyline points="550.6,298.6 549.0,311.8 547.3,325.0 552.3,331.6 558.8,333.2 560.5,344.7 562.1,353.0 572.0,362.9"/>
<polyline points="588.5,232.7 591.8,242.6 598.4,252.5 605.0,267.3 611.6,270.6"/>
<polyline points="611.6,270.6 609.9,278.8 605.0,292.0 598.4,298.6 596.7,301.9"/>
<polyline points="611.6,270.6 618.2,267.3 624.7,260.7 631.3,249.2 637.9,244.3 649.5,236.0 660.0,232.7"/>
<polyline points="596.7,301.9 605.0,295.3 614.9,297.0 624.7,301.9 637.9,308.5 649.5,310.1"/>
<polyline points="659.3,205.4 665.9,215.3 672.5,221.9 689.0,221.9"/>
<polyline points="689.0,165.9 677.4,179.1 669.2,180.7 666.0,192.0 659.3,203.0"/>
<polyline points="679.1,113.2 680.7,129.7 679.1,142.8 680.7,159.3 689.0,165.9"/>
<polyline points="679.1,113.2 692.3,123.1 698.8,128.0 707.1,133.0 715.3,133.0 728.5,139.6 740.0,142.8 751.6,152.7 758.2,157.7"/>
<polyline points="689.0,165.9 698.8,162.6 702.1,169.2 715.3,162.6 725.2,159.3 731.8,165.9 735.1,174.1 748.3,170.9 758.2,157.7"/>
<polyline points="662.6,77.0 677.4,85.2 689.0,91.8 707.1,96.7 725.2,100.0"/>
<polyline points="715.3,67.1 713.7,83.5 708.7,93.4"/>
<polyline points="725.2,100.0 735.1,96.7 745.0,81.9 751.6,76.9 756.5,72.0"/>
<polyline points="725.2,100.0 726.9,109.9 721.9,119.8 718.6,126.4 715.3,133.0"/>
<polyline points="758.2,157.7 769.9,172.1 778.1,162.3 776.0,152.0 773.2,140.8 779.8,124.4 790.0,118.0 799.5,112.8"/>
<polyline points="807.8,99.0 801.4,111.8 799.3,126.8 803.6,139.7 801.4,148.3 805.7,165.4"/>
<polyline points="748.3,170.9 749.9,184.0 753.2,192.3 743.3,198.9 741.7,208.7 735.1,212.0 731.8,225.2 736.7,231.8 738.4,244.0"/>
<polyline points="689.0,221.9 698.8,225.2 712.0,228.5 721.9,240.0 738.4,244.0"/>
<polyline points="805.7,165.4 803.6,169.7 822.8,184.7 831.4,195.4 844.3,199.7 850.7,212.5 855.0,214.6 872.1,210.4 872.1,212.5"/>
<polyline points="887.1,103.3 891.4,118.3 891.4,137.5 887.1,159.0 885.0,169.7 874.2,186.8 872.1,195.4 874.2,204.0 872.1,212.5 874.2,221.1 870.0,229.6 865.7,233.9"/>
<polyline points="874.2,219.0 893.5,214.6 908.5,208.2 917.1,199.7 929.9,195.4 932.1,180.4 942.8,174.0 944.9,159.0 944.9,141.8 951.3,137.5 951.3,126.8"/>
<polyline points="929.9,193.2 938.5,208.2 944.9,221.1"/>
<polyline points="944.9,141.8 964.2,139.7 966.3,150.4 979.2,150.4 989.9,156.8 987.8,169.7 983.5,176.1 994.2,180.4 1004.9,178.2"/>
<polyline points="780.0,238.2 801.4,233.9 812.1,231.8 820.7,218.9 833.5,221.1 848.5,229.6 857.1,236.1 865.7,233.9"/>
<polyline points="865.7,233.9 867.8,246.8 865.7,259.6 870.0,266.0 878.5,272.5 882.8,281.0"/>
<polyline points="672.5,221.9 665.0,229.0 660.0,232.7"/>
<polyline points="660.0,232.7 659.8,241.9 657.8,259.7 665.7,269.5 673.6,279.4 677.6,299.2 679.5,307.1"/>
<polyline points="649.5,310.1 651.9,317.0 665.7,313.0 675.6,313.0 679.5,307.1"/>
<polyline points="679.5,307.1 679.5,322.9 687.4,340.7 689.4,358.5 691.4,364.4"/>
<polyline points="623.6,351.7 621.6,363.6 635.5,369.5 651.9,366.4 667.7,358.5 679.5,358.5 689.4,360.5 691.4,364.4"/>
<polyline points="691.4,364.4 699.3,370.4 711.2,368.4 721.1,374.3 727.0,372.3 738.9,368.4 750.7,370.4 762.6,366.4 773.5,362.5"/>
<polyline points="699.3,370.4 693.4,388.2 693.4,398.0 701.3,409.9 705.2,417.8 702.3,421.0 698.4,427.7"/>
<polyline points="677.6,299.2 685.5,289.3 695.4,287.3 709.2,281.4 719.1,277.5 727.0,273.5 734.9,269.5 746.8,273.5 750.7,281.4"/>
<polyline points="743.5,267.5 751.0,275.0 756.0,285.0 766.0,292.5 773.5,305.0 778.5,312.5 788.5,320.0"/>
<polyline points="738.4,244.0 746.8,259.7 750.7,281.4"/>
<polyline points="746.8,259.7 762.6,249.8 768.5,245.8 778.4,237.9 790.3,234.0 801.4,233.9"/>
<polyline points="788.5,320.0 796.0,317.5 808.5,317.5"/>
<polyline points="808.5,317.5 818.5,305.0 828.5,297.5 838.5,290.0 838.5,280.0 836.0,267.5 843.5,257.5 856.0,260.0 866.0,260.0"/>
<polyline points="808.5,317.5 811.0,327.5 821.0,332.5 831.0,335.0 838.5,332.5 846.0,335.0"/>
<polyline points="788.5,320.0 783.5,335.0 773.5,347.5 771.0,352.5 773.5,362.5"/>
<polyline points="773.5,362.5 786.0,367.5 791.0,380.0 786.0,390.0 801.0,395.0 806.0,407.5 801.0,415.0"/>
<polyline points="806.0,407.5 823.5,410.0 831.0,405.0 843.5,400.0 856.0,397.5"/>
<polyline points="698.4,427.7 710.3,429.7 716.2,439.5 718.2,449.4 714.2,457.3 710.3,461.3"/>
<polyline points="710.3,461.3 722.1,463.3 728.0,453.4 736.0,445.0 748.5,442.5 761.0,440.0 773.5,437.5 776.0,420.0 786.0,410.0 796.0,410.0 801.0,415.0"/>
<polyline points="801.0,415.0 798.5,435.0 803.5,450.0 801.0,460.0 808.5,470.0 816.0,477.5"/>
<polyline points="438.0,356.0 449.6,357.7 465.4,361.6 467.4,373.5 481.3,377.4 493.1,379.4 503.0,387.3 512.9,383.4 526.7,381.4 536.6,377.4 546.5,369.5 560.3,365.6 574.2,363.6 588.0,359.7"/>
<polyline points="572.0,362.9 574.2,363.6"/>
<polyline points="588.0,359.7 597.9,353.7 615.7,355.7 623.6,351.7"/>
<polyline points="588.0,359.7 586.0,375.5 576.2,381.4 574.2,393.3 576.2,399.2 570.2,411.1 560.3,415.0 552.4,420.9 544.5,426.9 536.6,432.8"/>
<polyline points="567.9,411.9 579.8,419.8 595.6,429.7 609.4,437.6 619.3,437.6 639.1,435.6 654.9,433.6 668.7,431.6 682.6,431.6 698.4,427.7"/>
<polyline points="536.6,432.8 534.6,444.7 536.6,452.6 540.6,456.5 543.3,470.0 545.1,480.9 541.5,488.1 552.4,493.6 559.6,486.3 570.5,489.9 572.3,500.8 579.5,513.5 585.0,520.7"/>
<polyline points="536.6,452.6 524.8,452.6 512.9,458.5 503.0,466.4 499.8,470.0"/>
<polyline points="451.6,448.6 461.5,454.6 477.3,460.5 493.1,466.4 499.8,470.0"/>
<polyline points="499.8,470.0 498.0,477.2 488.9,480.9 476.2,484.5 476.2,489.9 483.5,493.6 485.3,506.2 483.5,518.9 483.5,531.6 483.5,542.5"/>
<polyline points="483.5,542.5 494.4,546.1 512.5,549.7 527.0,542.5 537.9,537.1 548.7,538.9"/>
<polyline points="548.7,538.9 556.0,538.9 559.6,542.5 570.5,528.0 585.0,520.7 597.7,520.7 606.7,524.4"/>
<polyline points="548.7,538.9 546.9,549.7 548.7,560.6 541.5,567.9 537.9,571.5 545.1,582.4 546.9,589.6"/>
<polyline points="606.7,524.4 604.9,537.1 614.0,542.5 623.0,547.9 635.7,551.6 639.3,558.8"/>
<polyline points="606.7,524.4 614.0,515.3 621.2,511.7 629.2,510.7"/>
<polyline points="609.4,437.6 613.4,449.4 611.4,469.2 613.4,489.0 619.3,498.9 623.3,508.7 629.2,510.7"/>
<polyline points="629.2,510.7 639.1,502.8 654.9,496.9 670.7,494.9 686.5,494.9 690.5,487.0 696.4,475.1 704.3,465.2 710.3,461.3"/>
<polyline points="722.1,463.3 724.1,465.2 726.1,479.1 722.1,494.9 714.2,506.8 706.3,514.7 706.3,522.6 694.4,520.6 688.5,530.5 684.6,538.4 682.6,548.3 678.6,558.2"/>
<polyline points="724.1,465.2 734.0,473.2 743.9,477.1 743.9,489.0 749.8,500.8 757.7,508.7 763.6,510.7"/></g>
<path d="M432.2,28.2 440.4,34.0 448.7,38.1 455.3,46.4 467.0,47.2 483.3,46.4 499.7,48.0 516.2,47.2 530.0,42.4 535.0,44.8 539.9,49.8 562.1,54.7 579.4,59.7 599.2,63.4 623.9,62.1 638.7,58.4 656.0,55.9 661.0,60.9 675.8,67.1 685.7,62.1 700.5,62.1 715.3,68.3 727.7,70.8 747.4,65.8 754.9,70.8 764.7,73.2 773.4,75.7 774.6,84.4 779.6,86.8 791.9,93.0 804.3,96.7 807.2,95.4 811.0,102.0 820.6,106.8 830.9,104.7 841.2,108.8 849.4,115.0 861.8,111.9 872.1,113.0 886.5,113.0 885.5,101.6 888.5,100.6 896.8,103.7 909.1,105.7 923.6,109.9 928.7,119.1 931.8,129.4 944.2,125.3 956.5,128.4 964.7,134.6 975.0,128.4 985.3,130.5 997.7,128.4 1005.9,123.2 1018.3,122.2 1026.5,125.3 1033.7,132.5 1026.5,139.7 1028.6,148.0 1030.6,160.3 1026.5,166.5 1016.2,176.8 1005.9,183.0 995.6,189.1 985.3,195.3 977.1,203.6 973.0,213.9 960.6,218.0 944.2,222.1 933.9,226.2 919.4,232.4 909.1,238.6 898.8,250.9 903.0,259.2 896.8,265.3 890.6,271.5 885.9,272.4 881.8,280.6 877.7,290.9 869.4,301.2 861.2,309.4 857.1,317.7 850.9,328.0 844.7,338.3 840.6,348.5 840.6,360.9 844.7,373.3 846.8,381.5 853.0,391.8 857.1,397.0 865.3,400.0 873.6,407.2 865.3,412.4 859.1,420.6 853.0,424.7 838.5,433.0 832.4,439.2 831.1,449.9 826.2,453.2 822.9,466.4 817.9,473.0 816.0,480.0 813.0,484.5 821.2,492.7 804.7,497.7 796.5,499.3 780.0,502.6 771.8,509.2 763.6,514.1 755.3,525.7 752.0,538.8 745.4,552.0 738.8,558.6 732.3,561.1 725.7,553.7 712.5,555.3 705.9,563.6 697.7,563.6 689.4,560.3 673.0,560.3 656.5,562.7 640.0,561.1 621.2,559.7 612.2,561.5 599.5,562.4 595.9,567.9 590.4,573.3 585.0,578.7 570.5,576.9 563.2,578.7 552.4,582.4 545.1,589.6 544.2,598.7 538.8,602.3 537.9,607.7 527.0,612.3 516.1,607.7 508.9,600.5 501.6,596.9 496.2,587.8 492.6,578.7 487.1,573.3 483.5,566.0 479.0,558.8 481.7,551.6 478.1,542.5 472.6,537.1 461.7,529.8 450.9,524.4 440.0,520.5 426.6,521.1 422.2,521.1 420.7,504.9 417.7,493.0 419.2,488.6 423.7,478.2 432.5,469.4 435.5,462.0 447.3,459.0 450.3,454.6 451.8,447.2 444.4,447.2 441.4,441.3 435.5,433.9 432.5,423.5 435.5,416.1 437.0,405.8 444.4,401.3 450.3,395.4 456.2,386.5 454.7,382.1 445.8,379.2 439.9,373.2 439.9,365.8 435.5,361.4 435.5,351.1 426.6,342.2 423.7,336.3 442.9,337.7 454.7,336.3 456.2,327.4 460.6,321.0 463.3,312.9 460.6,307.6 455.4,302.3 456.7,295.7 465.9,293.1 469.2,286.5 467.2,278.6 469.2,269.4 468.5,260.2 469.9,249.6 467.9,241.7 464.6,237.1 469.9,236.4 473.8,231.2 476.4,224.6 481.7,220.6 492.3,216.7 496.2,211.4 501.5,204.8 505.4,196.9 497.5,190.3 489.6,189.7 485.7,185.0 487.0,174.5 485.7,168.6 473.8,165.3 464.6,166.6 458.0,165.3 452.7,165.3 446.1,173.2 438.2,176.5 429.0,174.5 422.4,168.6 413.2,169.2 407.5,171.6 399.3,174.9 396.0,166.6 397.6,163.3 397.6,148.5 391.0,151.8 381.0,155.0 368.0,161.7 358.1,166.6 359.7,148.5 368.0,141.9 374.5,133.7 361.4,135.3 369.6,127.1 358.1,123.8 361.4,115.6 352.3,118.8 353.1,110.6 361.4,97.4 353.1,100.7 349.8,92.5 342.4,89.2 342.4,77.7 348.2,68.6 359.7,62.8 368.0,58.7 376.2,61.2 392.7,56.2 400.9,61.2 402.5,53.0 396.0,51.3 397.6,43.9 407.5,41.4 412.4,34.8 421.5,29.9Z M992.5,340.1 1002.4,332.7 1012.3,322.8 1018.8,317.9 1028.7,313.0 1033.7,311.3 1041.1,309.3 1037.0,314.6 1040.3,315.4 1038.6,319.5 1040.3,323.7 1048.5,322.0 1056.7,324.5 1055.1,332.7 1050.1,337.7 1046.9,345.9 1045.2,354.1 1035.3,361.5 1027.1,355.8 1018.8,354.1 1017.2,345.9 1011.4,341.0 1005.7,343.4 1002.4,348.4 999.1,344.3 994.1,343.4Z M1074.9,300.6 1083.1,298.9 1089.7,295.7 1096.3,301.4 1104.5,310.5 1103.7,315.4 1094.6,313.8 1084.7,308.8 1076.5,308.8 1074.9,304.7Z M929.9,388.7 934.8,383.8 941.4,379.7 948.8,377.2 952.9,381.3 948.0,388.7 941.4,395.3 939.8,397.8 933.2,396.1 929.9,393.7Z M940.6,406.9 943.9,402.7 946.4,406.9 953.0,409.3 951.3,411.8 941.4,412.6Z M122.7,551.4 129.6,544.5 140.8,548.0 142.6,557.5 140.0,568.7 132.2,578.2 128.7,575.7 127.0,564.4 123.5,557.5Z M102.8,634.5 107.1,631.9 112.3,631.0 118.4,626.7 121.8,628.4 120.9,633.6 115.8,638.8 114.0,643.1 110.6,640.5 109.7,637.1 103.6,637.1Z M164.2,607.7 169.4,603.3 176.3,605.1 181.5,611.1 179.8,616.3 172.8,619.8 166.8,616.3 163.8,611.1Z M196.2,594.7 204.0,593.0 214.4,593.8 226.5,592.1 233.4,585.2 240.3,581.7 254.1,582.6 254.1,586.9 245.5,588.6 236.8,597.3 233.4,607.7 226.5,619.8 219.5,625.0 209.2,625.0 205.7,618.0 202.2,607.7 198.8,599.0Z M269.7,635.3 274.9,629.3 281.0,624.9 281.0,619.8 287.0,621.5 293.9,623.2 300.8,621.5 301.7,628.4 301.7,642.2 299.1,649.2 292.2,654.4 285.3,656.1 276.6,650.9 271.4,645.7 269.7,640.5Z M366.2,633.1 372.3,634.0 379.2,631.4 387.0,625.3 387.9,618.4 393.1,609.8 400.0,602.9 403.4,595.9 405.2,587.3 409.5,585.1 414.7,584.7 417.3,587.3 417.3,601.1 414.7,606.3 413.8,615.8 412.1,620.2 409.5,626.2 403.4,627.9 396.5,629.2 387.9,630.5 382.7,635.7 378.4,639.6 372.3,637.9 366.2,636.2Z M415.6,574.7 419.9,571.7 419.9,564.8 423.3,561.3 429.4,558.7 436.3,556.1 441.5,557.0 444.1,553.5 445.8,550.1 443.2,548.4 443.2,543.2 446.7,544.9 448.4,549.2 451.5,551.8 451.0,555.3 448.4,558.7 447.6,565.7 445.0,569.1 439.8,570.8 432.9,573.0 426.8,573.9 423.3,577.8 419.0,576.9Z M444.1,534.5 446.7,533.2 448.4,535.4 445.8,536.2Z" fill="none" stroke="#000" stroke-width="1.2" stroke-linejoin="round" shape-rendering="crispEdges"/>
<path d="M76,529H454V660" fill="none" stroke="#5a5a5a" stroke-width="2"/>
</g>
<text class="cr" x="834" y="642" textLength="193" lengthAdjust="spacingAndGlyphs">http://climaenmapas.blogspot.com</text>
<text class="cr2" x="834" y="655" textLength="290" lengthAdjust="spacingAndGlyphs">César Rodríguez Ballesteros, twitter: @crballesteros</text>
<g class="cb"><rect x="184.5" y="675.5" width="29" height="14" fill="#7a14b4" stroke="#000" stroke-width="1"/>
<rect x="213.5" y="675.5" width="29" height="14" fill="#a020c8" stroke="#000" stroke-width="1"/>
<rect x="242.5" y="675.5" width="28" height="14" fill="#cc38d0" stroke="#000" stroke-width="1"/>
<rect x="270.5" y="675.5" width="29" height="14" fill="#d060c0" stroke="#000" stroke-width="1"/>
<rect x="299.5" y="675.5" width="29" height="14" fill="#d088bc" stroke="#000" stroke-width="1"/>
<rect x="328.5" y="675.5" width="29" height="14" fill="#d8a0c0" stroke="#000" stroke-width="1"/>
<rect x="357.5" y="675.5" width="29" height="14" fill="#dcb8c8" stroke="#000" stroke-width="1"/>
<rect x="386.5" y="675.5" width="29" height="14" fill="#e8d4d8" stroke="#000" stroke-width="1"/>
<rect x="415.5" y="675.5" width="28" height="14" fill="#e8e8e8" stroke="#000" stroke-width="1"/>
<rect x="443.5" y="675.5" width="29" height="14" fill="#fffff4" stroke="#000" stroke-width="1"/>
<rect x="472.5" y="675.5" width="29" height="14" fill="#000064" stroke="#000" stroke-width="1"/>
<rect x="501.5" y="675.5" width="29" height="14" fill="#0014a0" stroke="#000" stroke-width="1"/>
<rect x="530.5" y="675.5" width="29" height="14" fill="#0028e6" stroke="#000" stroke-width="1"/>
<rect x="559.5" y="675.5" width="28" height="14" fill="#3264ff" stroke="#000" stroke-width="1"/>
<rect x="587.5" y="675.5" width="29" height="14" fill="#78a0ff" stroke="#000" stroke-width="1"/>
<rect x="616.5" y="675.5" width="29" height="14" fill="#00ffff" stroke="#000" stroke-width="1"/>
<rect x="645.5" y="675.5" width="29" height="14" fill="#14e6dc" stroke="#000" stroke-width="1"/>
<rect x="674.5" y="675.5" width="29" height="14" fill="#1ed2c8" stroke="#000" stroke-width="1"/>
<rect x="703.5" y="675.5" width="29" height="14" fill="#28b4a0" stroke="#000" stroke-width="1"/>
<rect x="732.5" y="675.5" width="28" height="14" fill="#80ff00" stroke="#000" stroke-width="1"/>
<rect x="760.5" y="675.5" width="29" height="14" fill="#dcff00" stroke="#000" stroke-width="1"/>
<rect x="789.5" y="675.5" width="29" height="14" fill="#ffff00" stroke="#000" stroke-width="1"/>
<rect x="818.5" y="675.5" width="29" height="14" fill="#ffe100" stroke="#000" stroke-width="1"/>
<rect x="847.5" y="675.5" width="29" height="14" fill="#ffc800" stroke="#000" stroke-width="1"/>
<rect x="876.5" y="675.5" width="28" height="14" fill="#ffaf00" stroke="#000" stroke-width="1"/>
<rect x="904.5" y="675.5" width="29" height="14" fill="#ff8000" stroke="#000" stroke-width="1"/>
<rect x="933.5" y="675.5" width="29" height="14" fill="#ff0000" stroke="#000" stroke-width="1"/>
<rect x="962.5" y="675.5" width="29" height="14" fill="#ff00dc" stroke="#000" stroke-width="1"/>
<rect x="991.5" y="675.5" width="29" height="14" fill="#e600aa" stroke="#000" stroke-width="1"/>
<rect x="1020.5" y="675.5" width="29" height="14" fill="#c80082" stroke="#000" stroke-width="1"/>
<rect x="1049.5" y="675.5" width="28" height="14" fill="#b4006e" stroke="#000" stroke-width="1"/>
<rect x="1077.5" y="675.5" width="29" height="14" fill="#960046" stroke="#000" stroke-width="1"/>
<rect x="1106.5" y="675.5" width="29" height="14" fill="#8c1e28" stroke="#000" stroke-width="1"/>
<text x="184.5" y="673" text-anchor="middle">-30</text>
<text x="213.3" y="673" text-anchor="middle">-18</text>
<text x="242.1" y="673" text-anchor="middle">-16</text>
<text x="271.0" y="673" text-anchor="middle">-14</text>
<text x="299.8" y="673" text-anchor="middle">-12</text>
<text x="328.6" y="673" text-anchor="middle">-10</text>
<text x="357.4" y="673" text-anchor="middle">-8</text>
<text x="386.2" y="673" text-anchor="middle">-6</text>
<text x="415.0" y="673" text-anchor="middle">-4</text>
<text x="443.9" y="673" text-anchor="middle">-2</text>
<text x="472.7" y="673" text-anchor="middle">0</text>
<text x="501.5" y="673" text-anchor="middle">2</text>
<text x="530.3" y="673" text-anchor="middle">4</text>
<text x="559.1" y="673" text-anchor="middle">6</text>
<text x="588.0" y="673" text-anchor="middle">8</text>
<text x="616.8" y="673" text-anchor="middle">10</text>
<text x="645.6" y="673" text-anchor="middle">12</text>
<text x="674.4" y="673" text-anchor="middle">14</text>
<text x="703.2" y="673" text-anchor="middle">16</text>
<text x="732.0" y="673" text-anchor="middle">18</text>
<text x="760.9" y="673" text-anchor="middle">20</text>
<text x="789.7" y="673" text-anchor="middle">22</text>
<text x="818.5" y="673" text-anchor="middle">24</text>
<text x="847.3" y="673" text-anchor="middle">26</text>
<text x="876.1" y="673" text-anchor="middle">28</text>
<text x="905.0" y="673" text-anchor="middle">30</text>
<text x="933.8" y="673" text-anchor="middle">32</text>
<text x="962.6" y="673" text-anchor="middle">34</text>
<text x="991.4" y="673" text-anchor="middle">36</text>
<text x="1020.2" y="673" text-anchor="middle">38</text>
<text x="1049.0" y="673" text-anchor="middle">40</text>
<text x="1077.9" y="673" text-anchor="middle">42</text>
<text x="1106.7" y="673" text-anchor="middle">44</text>
<text x="1135.5" y="673" text-anchor="middle">50</text></g>

<text class="t" x="577" y="739" text-anchor="middle" textLength="542" lengthAdjust="spacingAndGlyphs">Temperatura máxima (ºC) prevista para el domingo 9 de julio de 2023</text>
<text class="s" x="848" y="754.5" text-anchor="end" textLength="400" lengthAdjust="spacingAndGlyphs">Fuente de datos: Predicción por municipios. AEMET OpenData</text>
<g transform="translate(-8,722)">
<g clip-path="url(#c2)"><g filter="url(#bl)">
<rect x="60" y="20" width="1100" height="650" fill="#ffba00"/>
<path fill="#d8ff00" d="M330.0,20.0 433.0,20.0 428.0,40.0 418.0,60.0 416.0,100.0 392.0,118.0 396.0,160.0 398.0,185.0 330.0,185.0Z"/>
<path fill="#90ff10" d="M340.0,72.0 358.0,68.0 368.0,80.0 366.0,98.0 356.0,108.0 343.0,100.0Z"/>
<path fill="#a0f020" d="M378.0,118.0 392.0,116.0 396.0,140.0 392.0,152.0 380.0,148.0Z"/>
<path fill="#40c0a0" d="M385.0,128.0 391.0,128.0 392.0,140.0 386.0,140.0Z"/>
<path fill="#f0ff00" d="M433.0,20.0 448.0,36.0 458.0,46.0 470.0,60.0 476.0,80.0 478.0,110.0 476.0,130.0 484.0,150.0 488.0,165.0 488.0,185.0 398.0,185.0 396.0,160.0 392.0,118.0 416.0,100.0 418.0,60.0 428.0,40.0Z"/>
<path fill="#e0ff00" d="M416.0,40.0 428.0,36.0 430.0,70.0 422.0,100.0 416.0,100.0Z"/>
<path fill="#ffe600" d="M430.0,100.0 455.0,98.0 466.0,115.0 460.0,138.0 440.0,135.0 430.0,120.0Z"/>
<path fill="#70d080" d="M434.0,142.0 452.0,142.0 452.0,156.0 436.0,156.0Z"/>
<path fill="#60c890" d="M464.0,146.0 478.0,146.0 478.0,162.0 466.0,162.0Z"/>
<path fill="#d0ff00" d="M455.0,40.0 540.0,40.0 600.0,60.0 615.0,62.0 615.0,104.0 590.0,110.0 560.0,112.0 520.0,115.0 490.0,125.0 476.0,130.0 478.0,110.0 476.0,80.0 470.0,60.0Z"/>
<path fill="#90e040" d="M486.0,72.0 520.0,70.0 560.0,78.0 600.0,80.0 604.0,100.0 580.0,106.0 540.0,108.0 505.0,110.0 486.0,100.0Z"/>
<path fill="#48c8a0" d="M500.0,80.0 540.0,80.0 580.0,86.0 598.0,90.0 596.0,100.0 560.0,100.0 520.0,98.0 500.0,92.0Z"/>
<path fill="#30d0c0" d="M545.0,87.0 570.0,89.0 578.0,95.0 556.0,96.0Z"/>
<path fill="#a8f020" d="M480.0,100.0 510.0,100.0 515.0,115.0 498.0,125.0 482.0,120.0Z"/>
<path fill="#50c8a0" d="M484.0,128.0 496.0,128.0 498.0,140.0 486.0,140.0Z"/>
<path fill="#eaff00" d="M476.0,120.0 520.0,112.0 560.0,108.0 590.0,104.0 592.0,150.0 580.0,160.0 540.0,160.0 500.0,165.0 486.0,165.0 484.0,150.0Z"/>
<path fill="#c0f820" d="M490.0,108.0 540.0,106.0 585.0,102.0 588.0,125.0 550.0,130.0 505.0,130.0 490.0,122.0Z"/>
<path fill="#ffd000" d="M540.0,145.0 580.0,140.0 610.0,150.0 620.0,170.0 590.0,175.0 555.0,172.0Z"/>
<path fill="#ffe000" d="M600.0,55.0 640.0,55.0 660.0,60.0 660.0,100.0 640.0,110.0 600.0,105.0Z"/>
<path fill="#ffc000" d="M640.0,58.0 680.0,60.0 680.0,110.0 660.0,112.0 640.0,110.0Z"/>
<path fill="#ffc800" d="M486.0,165.0 540.0,168.0 580.0,172.0 620.0,172.0 640.0,165.0 640.0,300.0 600.0,300.0 560.0,296.0 520.0,300.0 470.0,300.0 470.0,240.0 476.0,225.0 493.0,218.0 501.0,207.0 506.0,192.0Z"/>
<path fill="#ffb000" d="M553.0,174.0 600.0,175.0 640.0,180.0 650.0,250.0 600.0,250.0 560.0,250.0 550.0,220.0Z"/>
<path fill="#ff8c00" d="M561.0,186.0 600.0,185.0 640.0,190.0 660.0,200.0 660.0,236.0 640.0,236.0 600.0,230.0 570.0,225.0Z"/>
<path fill="#ffb400" d="M470.0,225.0 500.0,222.0 520.0,240.0 510.0,262.0 480.0,262.0 468.0,250.0Z"/>
<path fill="#ffe800" d="M511.0,272.0 540.0,265.0 570.0,262.0 600.0,262.0 611.0,270.0 600.0,290.0 570.0,296.0 540.0,300.0 515.0,300.0Z"/>
<path fill="#d8ff00" d="M540.0,276.0 560.0,272.0 575.0,278.0 560.0,288.0 543.0,286.0Z"/>
<path fill="#ffa800" d="M672.0,62.0 730.0,60.0 776.0,72.0 800.0,90.0 803.0,120.0 770.0,118.0 730.0,118.0 690.0,120.0 672.0,112.0Z"/>
<path fill="#ff3000" d="M680.0,105.0 720.0,104.0 760.0,108.0 800.0,110.0 803.0,123.0 760.0,124.0 720.0,124.0 680.0,124.0Z"/>
<path fill="#ff5000" d="M690.0,70.0 710.0,72.0 712.0,90.0 695.0,92.0Z"/>
<path fill="#ffd000" d="M800.0,96.0 886.0,100.0 930.0,110.0 948.0,125.0 950.0,160.0 900.0,160.0 860.0,158.0 820.0,150.0 805.0,130.0Z"/>
<path fill="#f4f000" d="M820.0,104.0 886.0,106.0 928.0,116.0 930.0,135.0 890.0,132.0 850.0,128.0 822.0,118.0Z"/>
<path fill="#70d070" d="M830.0,110.0 880.0,112.0 884.0,120.0 835.0,120.0Z"/>
<path fill="#ff3000" d="M803.0,123.0 830.0,125.0 854.0,135.0 854.0,160.0 830.0,158.0 810.0,150.0Z"/>
<path fill="#ff4000" d="M880.0,135.0 920.0,140.0 930.0,160.0 900.0,158.0 880.0,150.0Z"/>
<path fill="#ffb000" d="M600.0,100.0 680.0,110.0 690.0,140.0 700.0,150.0 700.0,200.0 680.0,210.0 640.0,200.0 610.0,190.0 600.0,160.0Z"/>
<path fill="#ff9400" d="M653.0,105.0 677.0,105.0 680.0,180.0 655.0,180.0Z"/>
<path fill="#ff8000" d="M564.0,184.0 628.0,174.0 682.0,174.0 690.0,200.0 665.0,253.0 620.0,250.0 591.0,240.0 570.0,230.0Z"/>
<path fill="#ff1000" d="M663.0,189.0 707.0,189.0 707.0,218.0 680.0,220.0Z"/>
<path fill="#ffb800" d="M677.0,142.0 732.0,150.0 740.0,175.0 732.0,208.0 707.0,208.0 690.0,190.0 680.0,170.0Z"/>
<path fill="#ff2000" d="M707.0,166.0 745.0,170.0 760.0,200.0 760.0,241.0 720.0,241.0 707.0,220.0Z"/>
<path fill="#ff0000" d="M653.0,238.0 700.0,232.0 760.0,241.0 760.0,280.0 700.0,275.0 653.0,280.0Z"/>
<path fill="#ff1000" d="M926.0,123.0 1031.0,123.0 1033.0,160.0 1020.0,180.0 985.0,198.0 960.0,220.0 930.0,232.0 900.0,225.0 880.0,205.0 870.0,180.0 900.0,160.0 926.0,150.0Z"/>
<path fill="#ff00c8" d="M990.0,142.0 1010.0,146.0 1014.0,165.0 1005.0,175.0 992.0,168.0Z"/>
<path fill="#ff00b0" d="M942.0,192.0 960.0,190.0 970.0,205.0 960.0,216.0 945.0,212.0Z"/>
<path fill="#ff8000" d="M960.0,160.0 985.0,165.0 990.0,185.0 975.0,190.0 962.0,178.0Z"/>
<path fill="#ff3040" d="M946.0,150.0 965.0,148.0 966.0,170.0 950.0,175.0Z"/>
<path fill="#ff2000" d="M965.0,160.0 985.0,158.0 990.0,175.0 972.0,185.0Z"/>
<path fill="#ff9000" d="M1012.0,124.0 1034.0,130.0 1030.0,150.0 1015.0,145.0Z"/>
<path fill="#ff6000" d="M925.0,130.0 950.0,125.0 955.0,150.0 935.0,155.0Z"/>
<path fill="#ff0000" d="M868.0,214.0 948.0,214.0 930.0,232.0 900.0,250.0 885.0,275.0 870.0,290.0 850.0,290.0 840.0,270.0 850.0,255.0Z"/>
<path fill="#ffa000" d="M880.0,225.0 905.0,225.0 905.0,245.0 890.0,255.0 878.0,240.0Z"/>
<path fill="#ff00dc" d="M679.7,119.7 708.7,116.1 745.0,112.5 781.2,116.1 799.3,130.6 803.0,148.7 832.0,156.0 868.2,163.2 904.5,170.5 922.6,185.0 919.0,195.9 890.0,214.0 875.5,221.2 868.2,243.0 853.7,257.5 832.0,264.7 810.2,257.5 781.2,257.5 759.5,243.0 745.0,235.7 734.1,221.2 745.0,199.5 745.0,177.7 737.7,159.6 708.7,141.5 690.6,134.2 679.7,127.0Z"/>
<path fill="#d8009c" d="M738.0,134.0 760.0,125.0 790.0,130.0 800.0,150.0 830.0,160.0 860.0,170.0 875.0,200.0 875.0,230.0 862.0,250.0 830.0,255.0 800.0,245.0 770.0,240.0 750.0,225.0 750.0,195.0 750.0,170.0 745.0,150.0Z"/>
<path fill="#c4007e" d="M781.0,178.0 805.0,174.0 817.0,190.0 812.0,207.0 790.0,205.0Z"/>
<path fill="#c4007e" d="M810.0,214.0 840.0,212.0 861.0,225.0 855.0,243.0 830.0,243.0 815.0,232.0Z"/>
<path fill="#ff8000" d="M629.0,230.0 745.0,221.0 763.0,232.0 800.0,250.0 817.0,257.0 817.0,262.0 744.0,262.0 683.0,260.0 640.0,262.0 629.0,257.0Z"/>
<path fill="#ff1000" d="M650.0,190.0 695.0,192.0 700.0,215.0 680.0,222.0 652.0,215.0Z"/>
<path fill="#ff1000" d="M700.0,200.0 735.0,200.0 745.0,240.0 720.0,245.0 705.0,230.0Z"/>
<path fill="#ff2000" d="M744.0,240.0 763.0,232.0 800.0,250.0 817.0,257.0 817.0,300.0 780.0,320.0 760.0,300.0 744.0,272.0Z"/>
<path fill="#ff00dc" d="M763.0,245.0 800.0,255.0 810.0,275.0 800.0,300.0 775.0,300.0 763.0,270.0Z"/>
<path fill="#ffb000" d="M817.0,257.0 868.0,250.0 880.0,270.0 860.0,300.0 830.0,320.0 815.0,300.0Z"/>
<path fill="#ffe000" d="M822.0,275.0 845.0,270.0 852.0,290.0 835.0,300.0Z"/>
<path fill="#ff8800" d="M420.0,300.0 470.0,293.0 502.0,293.0 527.0,310.0 535.0,321.0 552.0,338.0 548.0,359.0 527.0,367.0 511.0,379.0 486.0,387.0 453.0,395.0 440.0,420.0 425.0,460.0 420.0,400.0Z"/>
<path fill="#ffa800" d="M430.0,330.0 455.0,320.0 470.0,340.0 460.0,360.0 440.0,360.0Z"/>
<path fill="#ffa800" d="M436.0,405.0 448.0,398.0 452.0,420.0 440.0,430.0Z"/>
<path fill="#ff0000" d="M440.0,410.0 453.0,395.0 486.0,387.0 511.0,379.0 527.0,367.0 548.0,359.0 552.0,338.0 535.0,321.0 527.0,310.0 560.0,305.0 600.0,305.0 607.0,300.0 620.0,285.0 640.0,270.0 660.0,262.0 683.0,260.0 700.0,262.0 744.0,262.0 744.0,272.0 724.0,270.0 716.0,280.0 700.0,285.0 683.0,282.0 670.0,300.0 655.0,325.0 630.0,340.0 600.0,360.0 575.0,380.0 560.0,395.0 548.0,412.0 535.0,428.0 528.7,448.6 512.9,448.6 497.1,458.5 480.0,470.0 460.0,480.0 440.0,490.0 425.0,495.0 420.0,470.0 430.0,430.0Z"/>
<path fill="#ffa000" d="M570.0,340.0 600.0,338.0 624.0,344.0 620.0,354.0 590.0,354.0 570.0,352.0Z"/>
<path fill="#ff9000" d="M480.0,420.0 500.0,412.0 505.0,425.0 488.0,432.0Z"/>
<path fill="#ff00dc" d="M649.0,277.0 670.0,277.0 672.0,300.0 652.0,302.0Z"/>
<path fill="#ff00dc" d="M604.0,330.0 625.0,326.0 640.0,336.0 630.0,342.0 606.0,340.0Z"/>
<path fill="#ff00dc" d="M630.0,340.0 655.0,325.0 670.0,300.0 683.0,282.0 700.0,285.0 716.0,280.0 724.0,270.0 744.0,272.0 760.0,300.0 780.0,320.0 815.0,320.0 824.0,335.0 827.0,368.0 834.0,392.0 846.0,404.0 852.0,410.0 835.0,440.0 830.0,470.0 818.0,500.0 760.0,520.0 740.0,560.0 600.0,565.0 550.0,585.0 530.0,600.0 500.0,575.0 482.0,545.0 470.0,525.0 440.0,525.0 420.0,520.0 425.0,495.0 440.0,490.0 460.0,480.0 480.0,470.0 497.1,458.5 512.9,448.6 528.7,448.6 535.0,428.0 548.0,412.0 560.0,395.0 575.0,380.0 600.0,360.0Z"/>
<path fill="#ff0080" d="M600.0,360.0 630.0,340.0 641.0,344.0 641.0,367.0 624.0,378.0 590.0,394.0 574.0,406.0 557.0,420.0 548.0,412.0 560.0,395.0 575.0,380.0Z"/>
<path fill="#e000b0" d="M640.0,365.0 700.0,360.0 729.0,362.0 770.0,365.0 812.0,380.0 812.0,430.0 800.0,473.0 760.0,480.0 729.0,470.0 700.0,440.0 650.0,436.0 600.0,430.0 575.0,410.0 600.0,390.0Z"/>
<path fill="#d2009e" d="M729.0,362.0 800.0,365.0 812.0,400.0 812.0,473.0 780.0,480.0 740.0,470.0 729.0,430.0Z"/>
<path fill="#e800bc" d="M490.0,460.0 530.0,450.0 545.0,480.0 540.0,505.0 520.0,512.0 495.0,500.0Z"/>
<path fill="#d4009e" d="M530.0,440.0 544.0,436.0 600.0,436.0 650.0,440.0 700.0,445.0 721.0,460.0 720.0,500.0 690.0,514.0 640.0,520.0 600.0,520.0 544.0,514.0 530.0,500.0 522.0,470.0Z"/>
<path fill="#cc0090" d="M560.0,450.0 620.0,450.0 680.0,460.0 700.0,480.0 680.0,505.0 620.0,508.0 570.0,500.0 548.0,480.0Z"/>
<path fill="#ff1000" d="M480.0,445.0 510.0,448.0 540.0,438.0 552.0,445.0 540.0,460.0 510.0,462.0 485.0,470.0 470.0,472.0Z"/>
<path fill="#ff8800" d="M470.0,420.0 490.0,420.0 495.0,440.0 488.0,462.0 472.0,466.0Z"/>
<path fill="#ff0000" d="M418.0,460.0 445.0,455.0 455.0,470.0 450.0,500.0 440.0,520.0 420.0,520.0Z"/>
<path fill="#ff8000" d="M420.0,470.0 438.0,466.0 442.0,485.0 428.0,495.0 420.0,490.0Z"/>
<path fill="#ff0000" d="M478.0,542.0 490.0,540.0 500.0,560.0 515.0,585.0 530.0,590.0 545.0,585.0 540.0,605.0 527.0,613.0 510.0,605.0 495.0,590.0 483.0,565.0Z"/>
<path fill="#ff8000" d="M480.0,546.0 488.0,548.0 494.0,570.0 502.0,588.0 495.0,592.0 486.0,572.0 480.0,560.0Z"/>
<path fill="#ff30b0" d="M500.0,560.0 520.0,555.0 535.0,575.0 520.0,585.0 505.0,578.0Z"/>
<path fill="#ff30b0" d="M555.0,540.0 600.0,535.0 650.0,530.0 700.0,535.0 750.0,520.0 760.0,540.0 745.0,555.0 700.0,565.0 650.0,563.0 600.0,565.0 570.0,578.0 550.0,585.0Z"/>
<path fill="#ffb000" d="M647.0,516.0 675.0,512.0 690.0,525.0 688.0,545.0 665.0,548.0 648.0,538.0Z"/>
<path fill="#ffe400" d="M655.0,522.0 672.0,520.0 678.0,535.0 660.0,538.0Z"/>
<path fill="#ff9000" d="M614.0,540.0 635.0,536.0 640.0,555.0 620.0,562.0Z"/>
<path fill="#ffb000" d="M688.0,545.0 718.0,542.0 722.0,554.0 692.0,557.0Z"/>
<path fill="#ff8000" d="M721.0,516.0 748.0,514.0 750.0,530.0 724.0,532.0Z"/>
<path fill="#ff0000" d="M590.0,540.0 610.0,536.0 615.0,552.0 595.0,556.0Z"/>
<path fill="#ff0000" d="M828.0,312.0 850.0,305.0 845.0,340.0 840.0,360.0 848.0,385.0 858.0,398.0 845.0,404.0 833.0,392.0 826.0,368.0 822.0,340.0Z"/>
<path fill="#ff1060" d="M805.0,330.0 826.0,335.0 830.0,370.0 820.0,380.0 808.0,360.0Z"/>
<path fill="#ff8000" d="M830.0,398.0 860.0,400.0 872.0,408.0 855.0,425.0 835.0,430.0 825.0,415.0Z"/>
<path fill="#ff0000" d="M800.0,440.0 830.0,440.0 832.0,455.0 822.0,470.0 812.0,472.0 805.0,456.0Z"/>
<path fill="#ff0000" d="M760.0,500.0 800.0,495.0 790.0,505.0 765.0,512.0Z"/>
<path fill="#e800b8" d="M985.0,300.0 1060.0,300.0 1060.0,365.0 985.0,365.0Z"/>
<path fill="#d000a0" d="M1010.0,330.0 1040.0,325.0 1048.0,345.0 1040.0,358.0 1020.0,356.0Z"/>
<path fill="#ff4000" d="M990.0,342.0 1005.0,330.0 1020.0,318.0 1035.0,308.0 1040.0,313.0 1020.0,324.0 1005.0,336.0 996.0,346.0Z"/>
<path fill="#ff00dc" d="M1070.0,290.0 1110.0,290.0 1110.0,320.0 1070.0,320.0Z"/>
<path fill="#ff0000" d="M925.0,372.0 958.0,372.0 958.0,400.0 925.0,400.0Z"/>
<path fill="#ff00dc" d="M935.0,378.0 952.0,378.0 950.0,390.0 938.0,390.0Z"/>
<path fill="#ff9000" d="M935.0,400.0 958.0,400.0 958.0,415.0 935.0,415.0Z"/>
<path fill="#ff8000" d="M538.0,618.0 550.0,618.0 550.0,628.0 538.0,628.0Z"/>
<path fill="#ff5000" d="M684.0,664.0 693.0,664.0 693.0,674.0 684.0,674.0Z"/>
<path fill="#ffbc00" d="M95.0,535.0 460.0,535.0 460.0,665.0 95.0,665.0Z"/>
<path fill="#ffc800" d="M120.0,542.0 145.0,542.0 145.0,580.0 120.0,580.0Z"/>
<path fill="#ffcc00" d="M195.0,580.0 256.0,580.0 256.0,627.0 195.0,627.0Z"/>
<path fill="#ffb000" d="M268.0,618.0 304.0,618.0 304.0,658.0 268.0,658.0Z"/>
<path fill="#ffc400" d="M412.0,540.0 455.0,540.0 455.0,580.0 412.0,580.0Z"/>
</g></g>
<g fill="none" stroke="#000" stroke-width="1" stroke-linejoin="round" shape-rendering="crispEdges"><polyline points="431.0,29.0 426.0,44.0 418.5,64.0 416.0,74.0 414.8,96.5 412.0,99.0 416.0,119.0"/>
<polyline points="412.0,99.0 398.5,99.0 386.0,99.0 373.5,104.0 361.0,109.0 353.5,111.5"/>
<polyline points="416.0,119.0 398.5,119.0 390.0,122.8 391.0,134.0 396.0,144.0 398.5,154.0 396.0,164.0 396.0,174.0"/>
<polyline points="416.0,119.0 421.0,126.5 431.0,131.5 443.5,134.0 451.0,139.0 456.0,131.5 463.5,126.5 473.5,129.0 476.0,134.0"/>
<polyline points="460.0,55.0 461.0,61.5 468.5,74.0 473.5,79.0 468.5,89.0 473.5,96.5 471.0,109.0 463.5,119.0 463.5,126.5"/>
<polyline points="476.0,134.0 476.0,144.0 471.0,151.5 463.5,159.0 463.5,166.5"/>
<polyline points="473.5,96.5 486.0,94.0 496.0,91.5 501.0,86.5 511.0,87.8 523.5,89.0 536.0,91.5 548.5,89.0 561.0,86.5 573.5,81.5 581.0,76.5 586.0,81.5"/>
<polyline points="601.0,66.5 596.0,71.5 588.5,76.5 586.0,81.5"/>
<polyline points="476.0,144.0 491.0,149.0 511.0,151.5 526.0,154.0 541.0,159.0 553.5,162.8"/>
<polyline points="586.0,81.5 586.0,94.0 581.0,106.5 578.5,124.0 576.0,136.5 573.5,146.5"/>
<polyline points="573.5,146.5 561.0,149.0 553.5,154.0 553.5,162.8"/>
<polyline points="553.5,162.8 556.0,174.0 553.5,186.5 556.0,199.0 553.5,219.0 555.6,229.4"/>
<polyline points="491.3,219.5 501.2,222.8 509.4,226.1 517.7,229.4 522.6,224.5 534.1,225.3 545.7,229.4 555.6,229.4 563.8,232.7"/>
<polyline points="586.0,81.5 600.0,90.0 609.9,91.8 616.5,98.4 623.1,103.3 631.3,98.4 639.5,88.5 649.4,83.5 662.6,83.5 675.8,85.2 677.4,93.4 684.0,100.0 677.4,105.0 675.8,106.6 679.1,113.2"/>
<polyline points="616.5,98.4 613.2,114.8 613.2,136.3 616.5,151.1 624.7,162.6 626.0,174.0"/>
<polyline points="573.5,146.5 581.0,164.0 586.0,174.0 601.0,181.5 616.0,181.5 626.0,174.0"/>
<polyline points="600.0,180.7 609.9,184.0 624.7,184.0 626.4,192.3 629.7,200.5 642.8,207.1 654.4,200.5 659.3,205.4"/>
<polyline points="563.8,232.7 575.3,232.7 588.5,232.7"/>
<polyline points="588.5,232.7 596.7,221.2 601.7,213.0 614.9,209.7 629.7,204.7 628.0,189.9 624.7,184.9"/>
<polyline points="563.8,232.7 567.1,242.6 562.1,255.8 552.3,265.7 544.0,273.9 542.4,282.1 535.8,285.4 530.8,293.7"/>
<polyline points="456.0,295.0 465.0,295.3 481.4,288.7 501.2,279.7 509.4,285.4 517.7,293.7 525.9,293.7 530.8,293.7"/>
<polyline points="530.8,293.7 539.1,300.3 550.6,298.6 558.8,310.1 568.7,306.9 581.9,298.6 590.1,301.9 596.7,301.9"/>
<polyline points="550.6,298.6 549.0,311.8 547.3,325.0 552.3,331.6 558.8,333.2 560.5,344.7 562.1,353.0 572.0,362.9"/>
<polyline points="588.5,232.7 591.8,242.6 598.4,252.5 605.0,267.3 611.6,270.6"/>
<polyline points="611.6,270.6 609.9,278.8 605.0,292.0 598.4,298.6 596.7,301.9"/>
<polyline points="611.6,270.6 618.2,267.3 624.7,260.7 631.3,249.2 637.9,244.3 649.5,236.0 660.0,232.7"/>
<polyline points="596.7,301.9 605.0,295.3 614.9,297.0 624.7,301.9 637.9,308.5 649.5,310.1"/>
<polyline points="659.3,205.4 665.9,215.3 672.5,221.9 689.0,221.9"/>
<polyline points="689.0,165.9 677.4,179.1 669.2,180.7 666.0,192.0 659.3,203.0"/>
<polyline points="679.1,113.2 680.7,129.7 679.1,142.8 680.7,159.3 689.0,165.9"/>
<polyline points="679.1,113.2 692.3,123.1 698.8,128.0 707.1,133.0 715.3,133.0 728.5,139.6 740.0,142.8 751.6,152.7 758.2,157.7"/>
<polyline points="689.0,165.9 698.8,162.6 702.1,169.2 715.3,162.6 725.2,159.3 731.8,165.9 735.1,174.1 748.3,170.9 758.2,157.7"/>
<polyline points="662.6,77.0 677.4,85.2 689.0,91.8 707.1,96.7 725.2,100.0"/>
<polyline points="715.3,67.1 713.7,83.5 708.7,93.4"/>
<polyline points="725.2,100.0 735.1,96.7 745.0,81.9 751.6,76.9 756.5,72.0"/>
<polyline points="725.2,100.0 726.9,109.9 721.9,119.8 718.6,126.4 715.3,133.0"/>
<polyline points="758.2,157.7 769.9,172.1 778.1,162.3 776.0,152.0 773.2,140.8 779.8,124.4 790.0,118.0 799.5,112.8"/>
<polyline points="807.8,99.0 801.4,111.8 799.3,126.8 803.6,139.7 801.4,148.3 805.7,165.4"/>
<polyline points="748.3,170.9 749.9,184.0 753.2,192.3 743.3,198.9 741.7,208.7 735.1,212.0 731.8,225.2 736.7,231.8 738.4,244.0"/>
<polyline points="689.0,221.9 698.8,225.2 712.0,228.5 721.9,240.0 738.4,244.0"/>
<polyline points="805.7,165.4 803.6,169.7 822.8,184.7 831.4,195.4 844.3,199.7 850.7,212.5 855.0,214.6 872.1,210.4 872.1,212.5"/>
<polyline points="887.1,103.3 891.4,118.3 891.4,137.5 887.1,159.0 885.0,169.7 874.2,186.8 872.1,195.4 874.2,204.0 872.1,212.5 874.2,221.1 870.0,229.6 865.7,233.9"/>
<polyline points="874.2,219.0 893.5,214.6 908.5,208.2 917.1,199.7 929.9,195.4 932.1,180.4 942.8,174.0 944.9,159.0 944.9,141.8 951.3,137.5 951.3,126.8"/>
<polyline points="929.9,193.2 938.5,208.2 944.9,221.1"/>
<polyline points="944.9,141.8 964.2,139.7 966.3,150.4 979.2,150.4 989.9,156.8 987.8,169.7 983.5,176.1 994.2,180.4 1004.9,178.2"/>
<polyline points="780.0,238.2 801.4,233.9 812.1,231.8 820.7,218.9 833.5,221.1 848.5,229.6 857.1,236.1 865.7,233.9"/>
<polyline points="865.7,233.9 867.8,246.8 865.7,259.6 870.0,266.0 878.5,272.5 882.8,281.0"/>
<polyline points="672.5,221.9 665.0,229.0 660.0,232.7"/>
<polyline points="660.0,232.7 659.8,241.9 657.8,259.7 665.7,269.5 673.6,279.4 677.6,299.2 679.5,307.1"/>
<polyline points="649.5,310.1 651.9,317.0 665.7,313.0 675.6,313.0 679.5,307.1"/>
<polyline points="679.5,307.1 679.5,322.9 687.4,340.7 689.4,358.5 691.4,364.4"/>
<polyline points="623.6,351.7 621.6,363.6 635.5,369.5 651.9,366.4 667.7,358.5 679.5,358.5 689.4,360.5 691.4,364.4"/>
<polyline points="691.4,364.4 699.3,370.4 711.2,368.4 721.1,374.3 727.0,372.3 738.9,368.4 750.7,370.4 762.6,366.4 773.5,362.5"/>
<polyline points="699.3,370.4 693.4,388.2 693.4,398.0 701.3,409.9 705.2,417.8 702.3,421.0 698.4,427.7"/>
<polyline points="677.6,299.2 685.5,289.3 695.4,287.3 709.2,281.4 719.1,277.5 727.0,273.5 734.9,269.5 746.8,273.5 750.7,281.4"/>
<polyline points="743.5,267.5 751.0,275.0 756.0,285.0 766.0,292.5 773.5,305.0 778.5,312.5 788.5,320.0"/>
<polyline points="738.4,244.0 746.8,259.7 750.7,281.4"/>
<polyline points="746.8,259.7 762.6,249.8 768.5,245.8 778.4,237.9 790.3,234.0 801.4,233.9"/>
<polyline points="788.5,320.0 796.0,317.5 808.5,317.5"/>
<polyline points="808.5,317.5 818.5,305.0 828.5,297.5 838.5,290.0 838.5,280.0 836.0,267.5 843.5,257.5 856.0,260.0 866.0,260.0"/>
<polyline points="808.5,317.5 811.0,327.5 821.0,332.5 831.0,335.0 838.5,332.5 846.0,335.0"/>
<polyline points="788.5,320.0 783.5,335.0 773.5,347.5 771.0,352.5 773.5,362.5"/>
<polyline points="773.5,362.5 786.0,367.5 791.0,380.0 786.0,390.0 801.0,395.0 806.0,407.5 801.0,415.0"/>
<polyline points="806.0,407.5 823.5,410.0 831.0,405.0 843.5,400.0 856.0,397.5"/>
<polyline points="698.4,427.7 710.3,429.7 716.2,439.5 718.2,449.4 714.2,457.3 710.3,461.3"/>
<polyline points="710.3,461.3 722.1,463.3 728.0,453.4 736.0,445.0 748.5,442.5 761.0,440.0 773.5,437.5 776.0,420.0 786.0,410.0 796.0,410.0 801.0,415.0"/>
<polyline points="801.0,415.0 798.5,435.0 803.5,450.0 801.0,460.0 808.5,470.0 816.0,477.5"/>
<polyline points="438.0,356.0 449.6,357.7 465.4,361.6 467.4,373.5 481.3,377.4 493.1,379.4 503.0,387.3 512.9,383.4 526.7,381.4 536.6,377.4 546.5,369.5 560.3,365.6 574.2,363.6 588.0,359.7"/>
<polyline points="572.0,362.9 574.2,363.6"/>
<polyline points="588.0,359.7 597.9,353.7 615.7,355.7 623.6,351.7"/>
<polyline points="588.0,359.7 586.0,375.5 576.2,381.4 574.2,393.3 576.2,399.2 570.2,411.1 560.3,415.0 552.4,420.9 544.5,426.9 536.6,432.8"/>
<polyline points="567.9,411.9 579.8,419.8 595.6,429.7 609.4,437.6 619.3,437.6 639.1,435.6 654.9,433.6 668.7,431.6 682.6,431.6 698.4,427.7"/>
<polyline points="536.6,432.8 534.6,444.7 536.6,452.6 540.6,456.5 543.3,470.0 545.1,480.9 541.5,488.1 552.4,493.6 559.6,486.3 570.5,489.9 572.3,500.8 579.5,513.5 585.0,520.7"/>
<polyline points="536.6,452.6 524.8,452.6 512.9,458.5 503.0,466.4 499.8,470.0"/>
<polyline points="451.6,448.6 461.5,454.6 477.3,460.5 493.1,466.4 499.8,470.0"/>
<polyline points="499.8,470.0 498.0,477.2 488.9,480.9 476.2,484.5 476.2,489.9 483.5,493.6 485.3,506.2 483.5,518.9 483.5,531.6 483.5,542.5"/>
<polyline points="483.5,542.5 494.4,546.1 512.5,549.7 527.0,542.5 537.9,537.1 548.7,538.9"/>
<polyline points="548.7,538.9 556.0,538.9 559.6,542.5 570.5,528.0 585.0,520.7 597.7,520.7 606.7,524.4"/>
<polyline points="548.7,538.9 546.9,549.7 548.7,560.6 541.5,567.9 537.9,571.5 545.1,582.4 546.9,589.6"/>
<polyline points="606.7,524.4 604.9,537.1 614.0,542.5 623.0,547.9 635.7,551.6 639.3,558.8"/>
<polyline points="606.7,524.4 614.0,515.3 621.2,511.7 629.2,510.7"/>
<polyline points="609.4,437.6 613.4,449.4 611.4,469.2 613.4,489.0 619.3,498.9 623.3,508.7 629.2,510.7"/>
<polyline points="629.2,510.7 639.1,502.8 654.9,496.9 670.7,494.9 686.5,494.9 690.5,487.0 696.4,475.1 704.3,465.2 710.3,461.3"/>
<polyline points="722.1,463.3 724.1,465.2 726.1,479.1 722.1,494.9 714.2,506.8 706.3,514.7 706.3,522.6 694.4,520.6 688.5,530.5 684.6,538.4 682.6,548.3 678.6,558.2"/>
<polyline points="724.1,465.2 734.0,473.2 743.9,477.1 743.9,489.0 749.8,500.8 757.7,508.7 763.6,510.7"/></g>
<path d="M432.2,28.2 440.4,34.0 448.7,38.1 455.3,46.4 467.0,47.2 483.3,46.4 499.7,48.0 516.2,47.2 530.0,42.4 535.0,44.8 539.9,49.8 562.1,54.7 579.4,59.7 599.2,63.4 623.9,62.1 638.7,58.4 656.0,55.9 661.0,60.9 675.8,67.1 685.7,62.1 700.5,62.1 715.3,68.3 727.7,70.8 747.4,65.8 754.9,70.8 764.7,73.2 773.4,75.7 774.6,84.4 779.6,86.8 791.9,93.0 804.3,96.7 807.2,95.4 811.0,102.0 820.6,106.8 830.9,104.7 841.2,108.8 849.4,115.0 861.8,111.9 872.1,113.0 886.5,113.0 885.5,101.6 888.5,100.6 896.8,103.7 909.1,105.7 923.6,109.9 928.7,119.1 931.8,129.4 944.2,125.3 956.5,128.4 964.7,134.6 975.0,128.4 985.3,130.5 997.7,128.4 1005.9,123.2 1018.3,122.2 1026.5,125.3 1033.7,132.5 1026.5,139.7 1028.6,148.0 1030.6,160.3 1026.5,166.5 1016.2,176.8 1005.9,183.0 995.6,189.1 985.3,195.3 977.1,203.6 973.0,213.9 960.6,218.0 944.2,222.1 933.9,226.2 919.4,232.4 909.1,238.6 898.8,250.9 903.0,259.2 896.8,265.3 890.6,271.5 885.9,272.4 881.8,280.6 877.7,290.9 869.4,301.2 861.2,309.4 857.1,317.7 850.9,328.0 844.7,338.3 840.6,348.5 840.6,360.9 844.7,373.3 846.8,381.5 853.0,391.8 857.1,397.0 865.3,400.0 873.6,407.2 865.3,412.4 859.1,420.6 853.0,424.7 838.5,433.0 832.4,439.2 831.1,449.9 826.2,453.2 822.9,466.4 817.9,473.0 816.0,480.0 813.0,484.5 821.2,492.7 804.7,497.7 796.5,499.3 780.0,502.6 771.8,509.2 763.6,514.1 755.3,525.7 752.0,538.8 745.4,552.0 738.8,558.6 732.3,561.1 725.7,553.7 712.5,555.3 705.9,563.6 697.7,563.6 689.4,560.3 673.0,560.3 656.5,562.7 640.0,561.1 621.2,559.7 612.2,561.5 599.5,562.4 595.9,567.9 590.4,573.3 585.0,578.7 570.5,576.9 563.2,578.7 552.4,582.4 545.1,589.6 544.2,598.7 538.8,602.3 537.9,607.7 527.0,612.3 516.1,607.7 508.9,600.5 501.6,596.9 496.2,587.8 492.6,578.7 487.1,573.3 483.5,566.0 479.0,558.8 481.7,551.6 478.1,542.5 472.6,537.1 461.7,529.8 450.9,524.4 440.0,520.5 426.6,521.1 422.2,521.1 420.7,504.9 417.7,493.0 419.2,488.6 423.7,478.2 432.5,469.4 435.5,462.0 447.3,459.0 450.3,454.6 451.8,447.2 444.4,447.2 441.4,441.3 435.5,433.9 432.5,423.5 435.5,416.1 437.0,405.8 444.4,401.3 450.3,395.4 456.2,386.5 454.7,382.1 445.8,379.2 439.9,373.2 439.9,365.8 435.5,361.4 435.5,351.1 426.6,342.2 423.7,336.3 442.9,337.7 454.7,336.3 456.2,327.4 460.6,321.0 463.3,312.9 460.6,307.6 455.4,302.3 456.7,295.7 465.9,293.1 469.2,286.5 467.2,278.6 469.2,269.4 468.5,260.2 469.9,249.6 467.9,241.7 464.6,237.1 469.9,236.4 473.8,231.2 476.4,224.6 481.7,220.6 492.3,216.7 496.2,211.4 501.5,204.8 505.4,196.9 497.5,190.3 489.6,189.7 485.7,185.0 487.0,174.5 485.7,168.6 473.8,165.3 464.6,166.6 458.0,165.3 452.7,165.3 446.1,173.2 438.2,176.5 429.0,174.5 422.4,168.6 413.2,169.2 407.5,171.6 399.3,174.9 396.0,166.6 397.6,163.3 397.6,148.5 391.0,151.8 381.0,155.0 368.0,161.7 358.1,166.6 359.7,148.5 368.0,141.9 374.5,133.7 361.4,135.3 369.6,127.1 358.1,123.8 361.4,115.6 352.3,118.8 353.1,110.6 361.4,97.4 353.1,100.7 349.8,92.5 342.4,89.2 342.4,77.7 348.2,68.6 359.7,62.8 368.0,58.7 376.2,61.2 392.7,56.2 400.9,61.2 402.5,53.0 396.0,51.3 397.6,43.9 407.5,41.4 412.4,34.8 421.5,29.9Z M992.5,340.1 1002.4,332.7 1012.3,322.8 1018.8,317.9 1028.7,313.0 1033.7,311.3 1041.1,309.3 1037.0,314.6 1040.3,315.4 1038.6,319.5 1040.3,323.7 1048.5,322.0 1056.7,324.5 1055.1,332.7 1050.1,337.7 1046.9,345.9 1045.2,354.1 1035.3,361.5 1027.1,355.8 1018.8,354.1 1017.2,345.9 1011.4,341.0 1005.7,343.4 1002.4,348.4 999.1,344.3 994.1,343.4Z M1074.9,300.6 1083.1,298.9 1089.7,295.7 1096.3,301.4 1104.5,310.5 1103.7,315.4 1094.6,313.8 1084.7,308.8 1076.5,308.8 1074.9,304.7Z M929.9,388.7 934.8,383.8 941.4,379.7 948.8,377.2 952.9,381.3 948.0,388.7 941.4,395.3 939.8,397.8 933.2,396.1 929.9,393.7Z M940.6,406.9 943.9,402.7 946.4,406.9 953.0,409.3 951.3,411.8 941.4,412.6Z M122.7,551.4 129.6,544.5 140.8,548.0 142.6,557.5 140.0,568.7 132.2,578.2 128.7,575.7 127.0,564.4 123.5,557.5Z M102.8,634.5 107.1,631.9 112.3,631.0 118.4,626.7 121.8,628.4 120.9,633.6 115.8,638.8 114.0,643.1 110.6,640.5 109.7,637.1 103.6,637.1Z M164.2,607.7 169.4,603.3 176.3,605.1 181.5,611.1 179.8,616.3 172.8,619.8 166.8,616.3 163.8,611.1Z M196.2,594.7 204.0,593.0 214.4,593.8 226.5,592.1 233.4,585.2 240.3,581.7 254.1,582.6 254.1,586.9 245.5,588.6 236.8,597.3 233.4,607.7 226.5,619.8 219.5,625.0 209.2,625.0 205.7,618.0 202.2,607.7 198.8,599.0Z M269.7,635.3 274.9,629.3 281.0,624.9 281.0,619.8 287.0,621.5 293.9,623.2 300.8,621.5 301.7,628.4 301.7,642.2 299.1,649.2 292.2,654.4 285.3,656.1 276.6,650.9 271.4,645.7 269.7,640.5Z M366.2,633.1 372.3,634.0 379.2,631.4 387.0,625.3 387.9,618.4 393.1,609.8 400.0,602.9 403.4,595.9 405.2,587.3 409.5,585.1 414.7,584.7 417.3,587.3 417.3,601.1 414.7,606.3 413.8,615.8 412.1,620.2 409.5,626.2 403.4,627.9 396.5,629.2 387.9,630.5 382.7,635.7 378.4,639.6 372.3,637.9 366.2,636.2Z M415.6,574.7 419.9,571.7 419.9,564.8 423.3,561.3 429.4,558.7 436.3,556.1 441.5,557.0 444.1,553.5 445.8,550.1 443.2,548.4 443.2,543.2 446.7,544.9 448.4,549.2 451.5,551.8 451.0,555.3 448.4,558.7 447.6,565.7 445.0,569.1 439.8,570.8 432.9,573.0 426.8,573.9 423.3,577.8 419.0,576.9Z M444.1,534.5 446.7,533.2 448.4,535.4 445.8,536.2Z" fill="none" stroke="#000" stroke-width="1.2" stroke-linejoin="round" shape-rendering="crispEdges"/>
<path d="M84,529H454V662" fill="none" stroke="#5a5a5a" stroke-width="2"/>
</g>
<text class="cr" x="826" y="1364" textLength="193" lengthAdjust="spacingAndGlyphs">http://climaenmapas.blogspot.com</text>
<text class="cr2" x="826" y="1377" textLength="290" lengthAdjust="spacingAndGlyphs">César Rodríguez Ballesteros, twitter: @crballesteros</text>
<g class="cb"><rect x="176.5" y="1397.5" width="29" height="14" fill="#7a14b4" stroke="#000" stroke-width="1"/>
<rect x="205.5" y="1397.5" width="29" height="14" fill="#a020c8" stroke="#000" stroke-width="1"/>
<rect x="234.5" y="1397.5" width="28" height="14" fill="#cc38d0" stroke="#000" stroke-width="1"/>
<rect x="262.5" y="1397.5" width="29" height="14" fill="#d060c0" stroke="#000" stroke-width="1"/>
<rect x="291.5" y="1397.5" width="29" height="14" fill="#d088bc" stroke="#000" stroke-width="1"/>
<rect x="320.5" y="1397.5" width="29" height="14" fill="#d8a0c0" stroke="#000" stroke-width="1"/>
<rect x="349.5" y="1397.5" width="29" height="14" fill="#dcb8c8" stroke="#000" stroke-width="1"/>
<rect x="378.5" y="1397.5" width="29" height="14" fill="#e8d4d8" stroke="#000" stroke-width="1"/>
<rect x="407.5" y="1397.5" width="28" height="14" fill="#e8e8e8" stroke="#000" stroke-width="1"/>
<rect x="435.5" y="1397.5" width="29" height="14" fill="#fffff4" stroke="#000" stroke-width="1"/>
<rect x="464.5" y="1397.5" width="29" height="14" fill="#000064" stroke="#000" stroke-width="1"/>
<rect x="493.5" y="1397.5" width="29" height="14" fill="#0014a0" stroke="#000" stroke-width="1"/>
<rect x="522.5" y="1397.5" width="29" height="14" fill="#0028e6" stroke="#000" stroke-width="1"/>
<rect x="551.5" y="1397.5" width="28" height="14" fill="#3264ff" stroke="#000" stroke-width="1"/>
<rect x="579.5" y="1397.5" width="29" height="14" fill="#78a0ff" stroke="#000" stroke-width="1"/>
<rect x="608.5" y="1397.5" width="29" height="14" fill="#00ffff" stroke="#000" stroke-width="1"/>
<rect x="637.5" y="1397.5" width="29" height="14" fill="#14e6dc" stroke="#000" stroke-width="1"/>
<rect x="666.5" y="1397.5" width="29" height="14" fill="#1ed2c8" stroke="#000" stroke-width="1"/>
<rect x="695.5" y="1397.5" width="29" height="14" fill="#28b4a0" stroke="#000" stroke-width="1"/>
<rect x="724.5" y="1397.5" width="28" height="14" fill="#80ff00" stroke="#000" stroke-width="1"/>
<rect x="752.5" y="1397.5" width="29" height="14" fill="#dcff00" stroke="#000" stroke-width="1"/>
<rect x="781.5" y="1397.5" width="29" height="14" fill="#ffff00" stroke="#000" stroke-width="1"/>
<rect x="810.5" y="1397.5" width="29" height="14" fill="#ffe100" stroke="#000" stroke-width="1"/>
<rect x="839.5" y="1397.5" width="29" height="14" fill="#ffc800" stroke="#000" stroke-width="1"/>
<rect x="868.5" y="1397.5" width="28" height="14" fill="#ffaf00" stroke="#000" stroke-width="1"/>
<rect x="896.5" y="1397.5" width="29" height="14" fill="#ff8000" stroke="#000" stroke-width="1"/>
<rect x="925.5" y="1397.5" width="29" height="14" fill="#ff0000" stroke="#000" stroke-width="1"/>
<rect x="954.5" y="1397.5" width="29" height="14" fill="#ff00dc" stroke="#000" stroke-width="1"/>
<rect x="983.5" y="1397.5" width="29" height="14" fill="#e600aa" stroke="#000" stroke-width="1"/>
<rect x="1012.5" y="1397.5" width="29" height="14" fill="#c80082" stroke="#000" stroke-width="1"/>
<rect x="1041.5" y="1397.5" width="28" height="14" fill="#b4006e" stroke="#000" stroke-width="1"/>
<rect x="1069.5" y="1397.5" width="29" height="14" fill="#960046" stroke="#000" stroke-width="1"/>
<rect x="1098.5" y="1397.5" width="29" height="14" fill="#8c1e28" stroke="#000" stroke-width="1"/>
<text x="176.5" y="1395" text-anchor="middle">-30</text>
<text x="205.3" y="1395" text-anchor="middle">-18</text>
<text x="234.1" y="1395" text-anchor="middle">-16</text>
<text x="263.0" y="1395" text-anchor="middle">-14</text>
<text x="291.8" y="1395" text-anchor="middle">-12</text>
<text x="320.6" y="1395" text-anchor="middle">-10</text>
<text x="349.4" y="1395" text-anchor="middle">-8</text>
<text x="378.2" y="1395" text-anchor="middle">-6</text>
<text x="407.0" y="1395" text-anchor="middle">-4</text>
<text x="435.9" y="1395" text-anchor="middle">-2</text>
<text x="464.7" y="1395" text-anchor="middle">0</text>
<text x="493.5" y="1395" text-anchor="middle">2</text>
<text x="522.3" y="1395" text-anchor="middle">4</text>
<text x="551.1" y="1395" text-anchor="middle">6</text>
<text x="580.0" y="1395" text-anchor="middle">8</text>
<text x="608.8" y="1395" text-anchor="middle">10</text>
<text x="637.6" y="1395" text-anchor="middle">12</text>
<text x="666.4" y="1395" text-anchor="middle">14</text>
<text x="695.2" y="1395" text-anchor="middle">16</text>
<text x="724.0" y="1395" text-anchor="middle">18</text>
<text x="752.9" y="1395" text-anchor="middle">20</text>
<text x="781.7" y="1395" text-anchor="middle">22</text>
<text x="810.5" y="1395" text-anchor="middle">24</text>
<text x="839.3" y="1395" text-anchor="middle">26</text>
<text x="868.1" y="1395" text-anchor="middle">28</text>
<text x="897.0" y="1395" text-anchor="middle">30</text>
<text x="925.8" y="1395" text-anchor="middle">32</text>
<text x="954.6" y="1395" text-anchor="middle">34</text>
<text x="983.4" y="1395" text-anchor="middle">36</text>
<text x="1012.2" y="1395" text-anchor="middle">38</text>
<text x="1041.0" y="1395" text-anchor="middle">40</text>
<text x="1069.9" y="1395" text-anchor="middle">42</text>
<text x="1098.7" y="1395" text-anchor="middle">44</text>
<text x="1127.5" y="1395" text-anchor="middle">50</text></g>
</svg>
</body></html>
